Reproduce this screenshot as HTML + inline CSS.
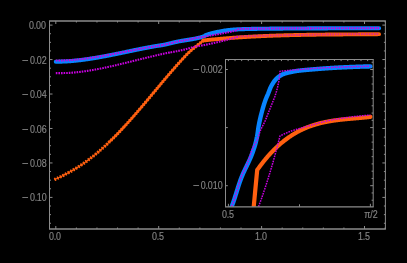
<!DOCTYPE html>
<html><head><meta charset="utf-8"><style>
html,body{margin:0;padding:0;background:#000;width:407px;height:263px;overflow:hidden}
#w{position:relative;width:407px;height:263px}
.l{position:absolute;font-family:"Liberation Sans",sans-serif;font-size:10.5px;line-height:12px;color:#848484;white-space:nowrap;z-index:2;-webkit-font-smoothing:antialiased;-webkit-text-stroke:0.15px #848484}
#lb{position:absolute;left:0;top:0;width:407px;height:263px;will-change:transform}
.c{width:40px;text-align:center}
.p{margin:0 -0.3px}
.r{transform:scaleX(0.85);transform-origin:100% 50%}
.c{transform:scaleX(0.85);transform-origin:50% 50%}
.mi{display:inline-block;transform:scaleX(1.25);transform-origin:100% 50%;margin-right:1.8px}
</style></head><body><div id="w">
<svg width="407" height="263" viewBox="0 0 407 263" style="position:absolute;left:0;top:0">
<defs>
<clipPath id="cm"><rect x="49.5" y="21.0" width="335.9" height="208.0"/></clipPath>
<clipPath id="ci"><rect x="225.5" y="59.5" width="147.7" height="147.3"/></clipPath>
</defs>
<g clip-path="url(#cm)" fill="none" stroke-linejoin="round">
<path d="M55.80,61.72 L56.32,61.72 L56.83,61.71 L57.35,61.71 L57.86,61.70 L58.38,61.69 L58.89,61.68 L59.41,61.66 L59.92,61.65 L60.44,61.63 L60.96,61.62 L61.47,61.60 L61.99,61.58 L62.50,61.56 L63.02,61.54 L63.53,61.52 L64.05,61.50 L64.57,61.48 L65.08,61.45 L65.60,61.43 L66.11,61.41 L66.63,61.38 L67.14,61.35 L67.66,61.32 L68.17,61.29 L68.69,61.25 L69.21,61.21 L69.72,61.17 L70.24,61.13 L70.75,61.09 L71.27,61.05 L71.78,61.00 L72.30,60.95 L72.82,60.91 L73.33,60.86 L73.85,60.81 L74.36,60.76 L74.88,60.71 L75.39,60.66 L75.91,60.61 L76.42,60.56 L76.94,60.51 L77.46,60.45 L77.97,60.39 L78.49,60.33 L79.00,60.28 L79.52,60.21 L80.03,60.15 L80.55,60.09 L81.07,60.02 L81.58,59.96 L82.10,59.89 L82.61,59.83 L83.13,59.76 L83.64,59.69 L84.16,59.62 L84.67,59.55 L85.19,59.48 L85.71,59.41 L86.22,59.34 L86.74,59.27 L87.25,59.19 L87.77,59.12 L88.28,59.04 L88.80,58.96 L89.31,58.89 L89.83,58.81 L90.35,58.73 L90.86,58.65 L91.38,58.56 L91.89,58.48 L92.41,58.40 L92.92,58.31 L93.44,58.23 L93.96,58.15 L94.47,58.06 L94.99,57.98 L95.50,57.89 L96.02,57.80 L96.53,57.72 L97.05,57.63 L97.56,57.54 L98.08,57.45 L98.60,57.36 L99.11,57.26 L99.63,57.17 L100.14,57.08 L100.66,56.98 L101.17,56.89 L101.69,56.80 L102.21,56.70 L102.72,56.60 L103.24,56.51 L103.75,56.41 L104.27,56.32 L104.78,56.22 L105.30,56.12 L105.81,56.02 L106.33,55.93 L106.85,55.83 L107.36,55.73 L107.88,55.63 L108.39,55.53 L108.91,55.43 L109.42,55.32 L109.94,55.22 L110.45,55.12 L110.97,55.02 L111.49,54.91 L112.00,54.81 L112.52,54.71 L113.03,54.60 L113.55,54.50 L114.06,54.40 L114.58,54.29 L115.10,54.19 L115.61,54.08 L116.13,53.98 L116.64,53.87 L117.16,53.77 L117.67,53.66 L118.19,53.56 L118.70,53.45 L119.22,53.34 L119.74,53.24 L120.25,53.13 L120.77,53.02 L121.28,52.91 L121.80,52.81 L122.31,52.70 L122.83,52.59 L123.35,52.49 L123.86,52.38 L124.38,52.27 L124.89,52.16 L125.41,52.06 L125.92,51.95 L126.44,51.84 L126.95,51.74 L127.47,51.63 L127.99,51.52 L128.50,51.41 L129.02,51.31 L129.53,51.20 L130.05,51.09 L130.56,50.98 L131.08,50.88 L131.60,50.77 L132.11,50.66 L132.63,50.55 L133.14,50.45 L133.66,50.34 L134.17,50.24 L134.69,50.13 L135.20,50.03 L135.72,49.92 L136.24,49.81 L136.75,49.71 L137.27,49.60 L137.78,49.50 L138.30,49.39 L138.81,49.29 L139.33,49.19 L139.84,49.08 L140.36,48.98 L140.88,48.87 L141.39,48.77 L141.91,48.67 L142.42,48.57 L142.94,48.47 L143.45,48.36 L143.97,48.26 L144.49,48.16 L145.00,48.06 L145.52,47.97 L146.03,47.87 L146.55,47.77 L147.06,47.67 L147.58,47.57 L148.09,47.47 L148.61,47.38 L149.13,47.28 L149.64,47.18 L150.16,47.09 L150.67,46.99 L151.19,46.90 L151.70,46.80 L152.22,46.71 L152.74,46.62 L153.25,46.52 L153.77,46.43 L154.28,46.34 L154.80,46.26 L155.31,46.17 L155.83,46.09 L156.34,46.00 L156.86,45.92 L157.38,45.84 L157.89,45.76 L158.41,45.68 L158.92,45.60 L159.44,45.52 L159.95,45.44 L160.47,45.36 L160.98,45.28 L161.50,45.20 L162.02,45.11 L162.53,45.02 L163.05,44.93 L163.56,44.84 L164.08,44.74 L164.59,44.64 L165.11,44.54 L165.63,44.43 L166.14,44.32 L166.66,44.21 L167.17,44.09 L167.69,43.98 L168.20,43.86 L168.72,43.73 L169.23,43.61 L169.75,43.49 L170.27,43.36 L170.78,43.23 L171.30,43.11 L171.81,42.98 L172.33,42.85 L172.84,42.73 L173.36,42.60 L173.88,42.48 L174.39,42.35 L174.91,42.23 L175.42,42.11 L175.94,42.00 L176.45,41.88 L176.97,41.77 L177.48,41.66 L178.00,41.55 L178.52,41.45 L179.03,41.35 L179.55,41.25 L180.06,41.15 L180.58,41.06 L181.09,40.97 L181.61,40.88 L182.13,40.79 L182.64,40.70 L183.16,40.62 L183.67,40.53 L184.19,40.45 L184.70,40.37 L185.22,40.29 L185.73,40.21 L186.25,40.13 L186.77,40.04 L187.28,39.96 L187.80,39.88 L188.31,39.80 L188.83,39.72 L189.34,39.64 L189.86,39.56 L190.37,39.47 L190.89,39.39 L191.41,39.30 L191.92,39.21 L192.44,39.12 L192.95,39.03 L193.47,38.94 L193.98,38.85 L194.50,38.75 L195.02,38.65 L195.53,38.55 L196.05,38.44 L196.56,38.33 L197.08,38.22 L197.59,38.11 L198.11,37.99 L198.62,37.87 L199.14,37.75 L199.66,37.62 L200.17,37.48 L200.69,37.34 L201.20,37.19 L201.72,37.03 L202.23,36.86 L202.75,36.68 L203.27,36.47 L203.78,36.23 L204.30,35.96 L204.81,35.68 L205.33,35.41 L205.84,35.17 L206.36,34.97 L206.87,34.78 L207.39,34.59 L207.91,34.41 L208.42,34.24 L208.94,34.08 L209.45,33.92 L209.97,33.76 L210.48,33.61 L211.00,33.46 L211.52,33.32 L212.03,33.18 L212.55,33.04 L213.06,32.91 L213.58,32.78 L214.09,32.65 L214.61,32.53 L215.12,32.41 L215.64,32.30 L216.16,32.19 L216.67,32.08 L217.19,31.98 L217.70,31.89 L218.22,31.80 L218.73,31.71 L219.25,31.62 L219.76,31.52 L220.28,31.43 L220.80,31.33 L221.31,31.23 L221.83,31.13 L222.34,31.02 L222.86,30.92 L223.37,30.82 L223.89,30.73 L224.41,30.64 L224.92,30.56 L225.44,30.48 L225.95,30.41 L226.47,30.35 L226.98,30.28 L227.50,30.22 L228.01,30.15 L228.53,30.09 L229.05,30.04 L229.56,29.98 L230.08,29.93 L230.59,29.87 L231.11,29.82 L231.62,29.78 L232.14,29.73 L232.66,29.69 L233.17,29.65 L233.69,29.61 L234.20,29.57 L234.72,29.54 L235.23,29.50 L235.75,29.47 L236.26,29.44 L236.78,29.41 L237.30,29.38 L237.81,29.35 L238.33,29.32 L238.84,29.30 L239.36,29.27 L239.87,29.25 L240.39,29.22 L240.90,29.20 L241.42,29.18 L241.94,29.16 L242.45,29.14 L242.97,29.12 L243.48,29.11 L244.00,29.09 L244.51,29.08 L245.03,29.06 L245.55,29.05 L246.06,29.03 L246.58,29.02 L247.09,29.01 L247.61,29.00 L248.12,28.99 L248.64,28.98 L249.15,28.96 L249.67,28.95 L250.19,28.94 L250.70,28.93 L251.22,28.92 L251.73,28.91 L252.25,28.91 L252.76,28.90 L253.28,28.89 L253.80,28.88 L254.31,28.87 L254.83,28.86 L255.34,28.85 L255.86,28.85 L256.37,28.84 L256.89,28.83 L257.40,28.82 L257.92,28.82 L258.44,28.81 L258.95,28.80 L259.47,28.79 L259.98,28.78 L260.50,28.78 L261.01,28.77 L261.53,28.76 L262.05,28.76 L262.56,28.75 L263.08,28.74 L263.59,28.74 L264.11,28.73 L264.62,28.72 L265.14,28.72 L265.65,28.71 L266.17,28.71 L266.69,28.70 L267.20,28.70 L267.72,28.69 L268.23,28.69 L268.75,28.68 L269.26,28.68 L269.78,28.67 L270.29,28.67 L270.81,28.66 L271.33,28.66 L271.84,28.65 L272.36,28.65 L272.87,28.65 L273.39,28.64 L273.90,28.64 L274.42,28.63 L274.94,28.63 L275.45,28.63 L275.97,28.62 L276.48,28.62 L277.00,28.61 L277.51,28.61 L278.03,28.61 L278.54,28.60 L279.06,28.60 L279.58,28.60 L280.09,28.59 L280.61,28.59 L281.12,28.59 L281.64,28.58 L282.15,28.58 L282.67,28.58 L283.19,28.57 L283.70,28.57 L284.22,28.57 L284.73,28.56 L285.25,28.56 L285.76,28.56 L286.28,28.55 L286.79,28.55 L287.31,28.55 L287.83,28.54 L288.34,28.54 L288.86,28.54 L289.37,28.53 L289.89,28.53 L290.40,28.53 L290.92,28.52 L291.43,28.52 L291.95,28.52 L292.47,28.51 L292.98,28.51 L293.50,28.51 L294.01,28.50 L294.53,28.50 L295.04,28.50 L295.56,28.49 L296.08,28.49 L296.59,28.49 L297.11,28.48 L297.62,28.48 L298.14,28.48 L298.65,28.47 L299.17,28.47 L299.68,28.47 L300.20,28.47 L300.72,28.46 L301.23,28.46 L301.75,28.46 L302.26,28.45 L302.78,28.45 L303.29,28.45 L303.81,28.44 L304.33,28.44 L304.84,28.44 L305.36,28.44 L305.87,28.43 L306.39,28.43 L306.90,28.43 L307.42,28.42 L307.93,28.42 L308.45,28.42 L308.97,28.42 L309.48,28.41 L310.00,28.41 L310.51,28.41 L311.03,28.40 L311.54,28.40 L312.06,28.40 L312.58,28.40 L313.09,28.39 L313.61,28.39 L314.12,28.39 L314.64,28.39 L315.15,28.38 L315.67,28.38 L316.18,28.38 L316.70,28.37 L317.22,28.37 L317.73,28.37 L318.25,28.37 L318.76,28.36 L319.28,28.36 L319.79,28.36 L320.31,28.36 L320.82,28.35 L321.34,28.35 L321.86,28.35 L322.37,28.35 L322.89,28.35 L323.40,28.34 L323.92,28.34 L324.43,28.34 L324.95,28.34 L325.47,28.33 L325.98,28.33 L326.50,28.33 L327.01,28.33 L327.53,28.33 L328.04,28.32 L328.56,28.32 L329.07,28.32 L329.59,28.32 L330.11,28.32 L330.62,28.31 L331.14,28.31 L331.65,28.31 L332.17,28.31 L332.68,28.31 L333.20,28.30 L333.72,28.30 L334.23,28.30 L334.75,28.30 L335.26,28.30 L335.78,28.29 L336.29,28.29 L336.81,28.29 L337.32,28.29 L337.84,28.29 L338.36,28.29 L338.87,28.28 L339.39,28.28 L339.90,28.28 L340.42,28.28 L340.93,28.28 L341.45,28.27 L341.97,28.27 L342.48,28.27 L343.00,28.27 L343.51,28.27 L344.03,28.27 L344.54,28.26 L345.06,28.26 L345.57,28.26 L346.09,28.26 L346.61,28.26 L347.12,28.26 L347.64,28.25 L348.15,28.25 L348.67,28.25 L349.18,28.25 L349.70,28.25 L350.21,28.25 L350.73,28.24 L351.25,28.24 L351.76,28.24 L352.28,28.24 L352.79,28.24 L353.31,28.24 L353.82,28.24 L354.34,28.23 L354.86,28.23 L355.37,28.23 L355.89,28.23 L356.40,28.23 L356.92,28.23 L357.43,28.23 L357.95,28.22 L358.46,28.22 L358.98,28.22 L359.50,28.22 L360.01,28.22 L360.53,28.22 L361.04,28.22 L361.56,28.21 L362.07,28.21 L362.59,28.21 L363.11,28.21 L363.62,28.21 L364.14,28.21 L364.65,28.21 L365.17,28.21 L365.68,28.20 L366.20,28.20 L366.71,28.20 L367.23,28.20 L367.75,28.20 L368.26,28.20 L368.78,28.20 L369.29,28.20 L369.81,28.19 L370.32,28.19 L370.84,28.19 L371.35,28.19 L371.87,28.19 L372.39,28.19 L372.90,28.19 L373.42,28.19 L373.93,28.19 L374.45,28.19 L374.96,28.18 L375.48,28.18 L376.00,28.18 L376.51,28.18 L377.03,28.18 L377.54,28.18 L378.06,28.18 L378.57,28.18 L379.09,28.18" stroke="#0884ff" stroke-width="4.1" stroke-linecap="round"/>
<path d="M109.76,141.55 L110.27,141.05 L110.79,140.54 L111.31,140.04 L111.83,139.53 L112.34,139.02 L112.86,138.50 L113.38,137.99 L113.90,137.47 L114.41,136.95 L114.93,136.43 L115.45,135.91 L115.97,135.38 L116.48,134.85 L117.00,134.33 L117.52,133.80 L118.03,133.26 L118.55,132.73 L119.07,132.19 L119.59,131.65 L120.10,131.10 L120.62,130.56 L121.14,130.01 L121.66,129.46 L122.17,128.90 L122.69,128.35 L123.21,127.79 L123.73,127.23 L124.24,126.67 L124.76,126.11 L125.28,125.54 L125.80,124.98 L126.31,124.41 L126.83,123.84 L127.35,123.27 L127.86,122.70 L128.38,122.13 L128.90,121.55 L129.42,120.98 L129.93,120.40 L130.45,119.82 L130.97,119.24 L131.49,118.66 L132.00,118.07 L132.52,117.48 L133.04,116.90 L133.56,116.30 L134.07,115.71 L134.59,115.12 L135.11,114.52 L135.62,113.92 L136.14,113.33 L136.66,112.73 L137.18,112.13 L137.69,111.53 L138.21,110.92 L138.73,110.32 L139.25,109.72 L139.76,109.11 L140.28,108.51 L140.80,107.90 L141.32,107.30 L141.83,106.69 L142.35,106.09 L142.87,105.48 L143.39,104.86 L143.90,104.25 L144.42,103.64 L144.94,103.02 L145.45,102.41 L145.97,101.79 L146.49,101.17 L147.01,100.56 L147.52,99.94 L148.04,99.32 L148.56,98.70 L149.08,98.08 L149.59,97.46 L150.11,96.84 L150.63,96.22 L151.15,95.60 L151.66,94.98 L152.18,94.36 L152.70,93.74 L153.22,93.12 L153.73,92.51 L154.25,91.89 L154.77,91.27 L155.28,90.65 L155.80,90.03 L156.32,89.41 L156.84,88.78 L157.35,88.16 L157.87,87.54 L158.39,86.92 L158.91,86.30 L159.42,85.67 L159.94,85.05 L160.46,84.43 L160.98,83.81 L161.49,83.19 L162.01,82.58 L162.53,81.96 L163.04,81.34 L163.56,80.73 L164.08,80.12 L164.60,79.50 L165.11,78.89 L165.63,78.29 L166.15,77.68 L166.67,77.07 L167.18,76.46 L167.70,75.86 L168.22,75.25 L168.74,74.64 L169.25,74.04 L169.77,73.43 L170.29,72.83 L170.81,72.23 L171.32,71.62 L171.84,71.02 L172.36,70.43 L172.87,69.83 L173.39,69.23 L173.91,68.64 L174.43,68.05 L174.94,67.46 L175.46,66.88 L175.98,66.30 L176.50,65.72 L177.01,65.14 L177.53,64.57 L178.05,64.00 L178.57,63.42 L179.08,62.85 L179.60,62.27 L180.12,61.70 L180.63,61.13 L181.15,60.55 L181.67,59.98 L182.19,59.41 L182.70,58.84 L183.22,58.28 L183.74,57.72 L184.26,57.16 L184.77,56.61 L185.29,56.06 L185.81,55.52 L186.33,54.98 L186.84,54.45 L187.36,53.93 L187.88,53.42 L188.40,52.91 L188.91,52.41 L189.43,51.93 L189.95,51.45 L190.46,50.98 L190.98,50.52 L191.50,50.08 L192.02,49.64 L192.53,49.21 L193.05,48.78 L193.57,48.36 L194.09,47.95 L194.60,47.53 L195.12,47.12 L195.64,46.71 L196.16,46.30 L196.67,45.89 L197.19,45.48 L197.71,45.06 L198.23,44.64 L198.74,44.22 L199.26,43.80 L199.78,43.38 L200.29,42.96 L200.81,42.54 L201.33,42.13 L201.85,41.71 L202.36,41.30 L202.88,40.88 L203.40,40.47" stroke="#ff6010" stroke-width="2.3"/>
<path d="M54.40,179.60 L54.92,179.37 L55.43,179.14 L55.95,178.91 L56.47,178.67 L56.99,178.43 L57.50,178.19 L58.02,177.95 L58.54,177.71 L59.06,177.46 L59.57,177.21 L60.09,176.96 L60.61,176.71 L61.13,176.46 L61.64,176.20 L62.16,175.94 L62.68,175.68 L63.20,175.42 L63.71,175.16 L64.23,174.89 L64.75,174.62 L65.26,174.35 L65.78,174.08 L66.30,173.81 L66.82,173.54 L67.33,173.26 L67.85,172.98 L68.37,172.70 L68.89,172.42 L69.40,172.14 L69.92,171.85 L70.44,171.56 L70.96,171.27 L71.47,170.98 L71.99,170.69 L72.51,170.39 L73.02,170.09 L73.54,169.79 L74.06,169.48 L74.58,169.17 L75.09,168.87 L75.61,168.55 L76.13,168.24 L76.65,167.92 L77.16,167.60 L77.68,167.28 L78.20,166.95 L78.72,166.62 L79.23,166.29 L79.75,165.96 L80.27,165.62 L80.79,165.28 L81.30,164.94 L81.82,164.59 L82.34,164.24 L82.85,163.89 L83.37,163.53 L83.89,163.17 L84.41,162.80 L84.92,162.44 L85.44,162.07 L85.96,161.69 L86.48,161.32 L86.99,160.94 L87.51,160.55 L88.03,160.17 L88.55,159.78 L89.06,159.39 L89.58,159.00 L90.10,158.60 L90.61,158.21 L91.13,157.81 L91.65,157.40 L92.17,157.00 L92.68,156.59 L93.20,156.18 L93.72,155.77 L94.24,155.35 L94.75,154.93 L95.27,154.51 L95.79,154.08 L96.31,153.65 L96.82,153.22 L97.34,152.78 L97.86,152.35 L98.38,151.90 L98.89,151.46 L99.41,151.01 L99.93,150.56 L100.44,150.11 L100.96,149.66 L101.48,149.20 L102.00,148.74 L102.51,148.28 L103.03,147.81 L103.55,147.35 L104.07,146.88 L104.58,146.41 L105.10,145.94 L105.62,145.46 L106.14,144.98 L106.65,144.50 L107.17,144.02 L107.69,143.53 L108.21,143.04 L108.72,142.54 L109.24,142.05 L109.76,141.55 L110.27,141.05 L110.79,140.54 L111.31,140.04" stroke="#ff6010" stroke-width="1.2"/>
<path d="M54.40,179.60 L54.92,179.37 L55.43,179.14 L55.95,178.91 L56.47,178.67 L56.99,178.43 L57.50,178.19 L58.02,177.95 L58.54,177.71 L59.06,177.46 L59.57,177.21 L60.09,176.96 L60.61,176.71 L61.13,176.46 L61.64,176.20 L62.16,175.94 L62.68,175.68 L63.20,175.42 L63.71,175.16 L64.23,174.89 L64.75,174.62 L65.26,174.35 L65.78,174.08 L66.30,173.81 L66.82,173.54 L67.33,173.26 L67.85,172.98 L68.37,172.70 L68.89,172.42 L69.40,172.14 L69.92,171.85 L70.44,171.56 L70.96,171.27 L71.47,170.98 L71.99,170.69 L72.51,170.39 L73.02,170.09 L73.54,169.79 L74.06,169.48 L74.58,169.17 L75.09,168.87 L75.61,168.55 L76.13,168.24 L76.65,167.92 L77.16,167.60 L77.68,167.28 L78.20,166.95 L78.72,166.62 L79.23,166.29 L79.75,165.96 L80.27,165.62 L80.79,165.28 L81.30,164.94 L81.82,164.59 L82.34,164.24 L82.85,163.89 L83.37,163.53 L83.89,163.17 L84.41,162.80 L84.92,162.44 L85.44,162.07 L85.96,161.69 L86.48,161.32 L86.99,160.94 L87.51,160.55 L88.03,160.17 L88.55,159.78 L89.06,159.39 L89.58,159.00 L90.10,158.60 L90.61,158.21 L91.13,157.81 L91.65,157.40 L92.17,157.00 L92.68,156.59 L93.20,156.18 L93.72,155.77 L94.24,155.35 L94.75,154.93 L95.27,154.51 L95.79,154.08 L96.31,153.65 L96.82,153.22 L97.34,152.78 L97.86,152.35 L98.38,151.90 L98.89,151.46 L99.41,151.01 L99.93,150.56 L100.44,150.11 L100.96,149.66 L101.48,149.20 L102.00,148.74 L102.51,148.28 L103.03,147.81 L103.55,147.35 L104.07,146.88 L104.58,146.41 L105.10,145.94 L105.62,145.46 L106.14,144.98 L106.65,144.50 L107.17,144.02 L107.69,143.53 L108.21,143.04 L108.72,142.54 L109.24,142.05 L109.76,141.55 L110.27,141.05 L110.79,140.54 L111.31,140.04 L111.83,139.53 L112.34,139.02 L112.86,138.50 L113.38,137.99 L113.90,137.47 L114.41,136.95 L114.93,136.43 L115.45,135.91 L115.97,135.38 L116.48,134.85 L117.00,134.33 L117.52,133.80 L118.03,133.26 L118.55,132.73 L119.07,132.19 L119.59,131.65 L120.10,131.10 L120.62,130.56 L121.14,130.01 L121.66,129.46 L122.17,128.90 L122.69,128.35 L123.21,127.79 L123.73,127.23 L124.24,126.67 L124.76,126.11 L125.28,125.54 L125.80,124.98 L126.31,124.41 L126.83,123.84 L127.35,123.27 L127.86,122.70 L128.38,122.13 L128.90,121.55 L129.42,120.98 L129.93,120.40 L130.45,119.82 L130.97,119.24 L131.49,118.66 L132.00,118.07 L132.52,117.48 L133.04,116.90 L133.56,116.30 L134.07,115.71 L134.59,115.12 L135.11,114.52 L135.62,113.92 L136.14,113.33 L136.66,112.73 L137.18,112.13 L137.69,111.53 L138.21,110.92 L138.73,110.32 L139.25,109.72 L139.76,109.11 L140.28,108.51 L140.80,107.90 L141.32,107.30 L141.83,106.69 L142.35,106.09 L142.87,105.48 L143.39,104.86 L143.90,104.25 L144.42,103.64 L144.94,103.02 L145.45,102.41 L145.97,101.79 L146.49,101.17 L147.01,100.56 L147.52,99.94 L148.04,99.32 L148.56,98.70 L149.08,98.08 L149.59,97.46 L150.11,96.84 L150.63,96.22 L151.15,95.60 L151.66,94.98 L152.18,94.36 L152.70,93.74 L153.22,93.12 L153.73,92.51 L154.25,91.89 L154.77,91.27 L155.28,90.65 L155.80,90.03 L156.32,89.41 L156.84,88.78 L157.35,88.16 L157.87,87.54 L158.39,86.92 L158.91,86.30 L159.42,85.67 L159.94,85.05 L160.46,84.43 L160.98,83.81 L161.49,83.19 L162.01,82.58 L162.53,81.96 L163.04,81.34 L163.56,80.73 L164.08,80.12 L164.60,79.50 L165.11,78.89 L165.63,78.29 L166.15,77.68 L166.67,77.07 L167.18,76.46 L167.70,75.86 L168.22,75.25 L168.74,74.64 L169.25,74.04 L169.77,73.43 L170.29,72.83 L170.81,72.23 L171.32,71.62 L171.84,71.02 L172.36,70.43 L172.87,69.83 L173.39,69.23 L173.91,68.64 L174.43,68.05 L174.94,67.46 L175.46,66.88 L175.98,66.30 L176.50,65.72 L177.01,65.14 L177.53,64.57 L178.05,64.00 L178.57,63.42 L179.08,62.85 L179.60,62.27 L180.12,61.70 L180.63,61.13 L181.15,60.55 L181.67,59.98 L182.19,59.41 L182.70,58.84 L183.22,58.28 L183.74,57.72 L184.26,57.16 L184.77,56.61 L185.29,56.06 L185.81,55.52 L186.33,54.98 L186.84,54.45 L187.36,53.93 L187.88,53.42 L188.40,52.91 L188.91,52.41 L189.43,51.93 L189.95,51.45 L190.46,50.98 L190.98,50.52 L191.50,50.08 L192.02,49.64 L192.53,49.21 L193.05,48.78 L193.57,48.36 L194.09,47.95 L194.60,47.53 L195.12,47.12 L195.64,46.71 L196.16,46.30 L196.67,45.89 L197.19,45.48 L197.71,45.06 L198.23,44.64 L198.74,44.22 L199.26,43.80 L199.78,43.38 L200.29,42.96 L200.81,42.54 L201.33,42.13 L201.85,41.71 L202.36,41.30 L202.88,40.88 L203.40,40.47" stroke="#ff6010" stroke-width="3.3" stroke-dasharray="1.6 1.4"/>
<path d="M203.40,40.47 L203.92,40.41 L204.43,40.36 L204.95,40.30 L205.47,40.25 L205.98,40.19 L206.50,40.14 L207.02,40.08 L207.53,40.03 L208.05,39.98 L208.57,39.92 L209.08,39.87 L209.60,39.82 L210.12,39.77 L210.63,39.72 L211.15,39.67 L211.67,39.61 L212.18,39.56 L212.70,39.51 L213.22,39.46 L213.73,39.42 L214.25,39.37 L214.77,39.32 L215.28,39.27 L215.80,39.22 L216.32,39.17 L216.83,39.13 L217.35,39.08 L217.87,39.03 L218.38,38.99 L218.90,38.94 L219.42,38.89 L219.93,38.85 L220.45,38.80 L220.97,38.76 L221.48,38.71 L222.00,38.67 L222.52,38.63 L223.03,38.58 L223.55,38.54 L224.07,38.50 L224.58,38.45 L225.10,38.41 L225.62,38.37 L226.14,38.33 L226.65,38.29 L227.17,38.25 L227.69,38.21 L228.20,38.17 L228.72,38.13 L229.24,38.09 L229.75,38.05 L230.27,38.01 L230.79,37.97 L231.30,37.93 L231.82,37.89 L232.34,37.85 L232.85,37.82 L233.37,37.78 L233.89,37.74 L234.40,37.70 L234.92,37.67 L235.44,37.63 L235.95,37.60 L236.47,37.56 L236.99,37.52 L237.50,37.49 L238.02,37.45 L238.54,37.42 L239.05,37.39 L239.57,37.35 L240.09,37.32 L240.60,37.28 L241.12,37.25 L241.64,37.22 L242.15,37.19 L242.67,37.15 L243.19,37.12 L243.70,37.09 L244.22,37.06 L244.74,37.03 L245.25,37.00 L245.77,36.96 L246.29,36.93 L246.80,36.90 L247.32,36.87 L247.84,36.84 L248.35,36.81 L248.87,36.79 L249.39,36.76 L249.90,36.73 L250.42,36.70 L250.94,36.67 L251.46,36.64 L251.97,36.62 L252.49,36.59 L253.01,36.56 L253.52,36.53 L254.04,36.51 L254.56,36.48 L255.07,36.45 L255.59,36.43 L256.11,36.40 L256.62,36.38 L257.14,36.35 L257.66,36.33 L258.17,36.30 L258.69,36.28 L259.21,36.25 L259.72,36.23 L260.24,36.20 L260.76,36.18 L261.27,36.16 L261.79,36.13 L262.31,36.11 L262.82,36.09 L263.34,36.06 L263.86,36.04 L264.37,36.02 L264.89,36.00 L265.41,35.98 L265.92,35.95 L266.44,35.93 L266.96,35.91 L267.47,35.89 L267.99,35.87 L268.51,35.85 L269.02,35.83 L269.54,35.81 L270.06,35.79 L270.57,35.77 L271.09,35.75 L271.61,35.73 L272.12,35.71 L272.64,35.69 L273.16,35.67 L273.67,35.66 L274.19,35.64 L274.71,35.62 L275.23,35.60 L275.74,35.58 L276.26,35.57 L276.78,35.55 L277.29,35.53 L277.81,35.51 L278.33,35.50 L278.84,35.48 L279.36,35.46 L279.88,35.45 L280.39,35.43 L280.91,35.42 L281.43,35.40 L281.94,35.38 L282.46,35.37 L282.98,35.35 L283.49,35.34 L284.01,35.32 L284.53,35.31 L285.04,35.30 L285.56,35.28 L286.08,35.27 L286.59,35.25 L287.11,35.24 L287.63,35.22 L288.14,35.21 L288.66,35.20 L289.18,35.18 L289.69,35.17 L290.21,35.16 L290.73,35.15 L291.24,35.13 L291.76,35.12 L292.28,35.11 L292.79,35.10 L293.31,35.08 L293.83,35.07 L294.34,35.06 L294.86,35.05 L295.38,35.04 L295.89,35.03 L296.41,35.01 L296.93,35.00 L297.44,34.99 L297.96,34.98 L298.48,34.97 L298.99,34.96 L299.51,34.95 L300.03,34.94 L300.55,34.93 L301.06,34.92 L301.58,34.91 L302.10,34.90 L302.61,34.89 L303.13,34.88 L303.65,34.87 L304.16,34.86 L304.68,34.85 L305.20,34.84 L305.71,34.84 L306.23,34.83 L306.75,34.82 L307.26,34.81 L307.78,34.80 L308.30,34.79 L308.81,34.78 L309.33,34.78 L309.85,34.77 L310.36,34.76 L310.88,34.75 L311.40,34.75 L311.91,34.74 L312.43,34.73 L312.95,34.72 L313.46,34.72 L313.98,34.71 L314.50,34.70 L315.01,34.69 L315.53,34.69 L316.05,34.68 L316.56,34.67 L317.08,34.67 L317.60,34.66 L318.11,34.65 L318.63,34.65 L319.15,34.64 L319.66,34.64 L320.18,34.63 L320.70,34.62 L321.21,34.62 L321.73,34.61 L322.25,34.61 L322.76,34.60 L323.28,34.59 L323.80,34.59 L324.32,34.58 L324.83,34.58 L325.35,34.57 L325.87,34.57 L326.38,34.56 L326.90,34.56 L327.42,34.55 L327.93,34.55 L328.45,34.54 L328.97,34.54 L329.48,34.53 L330.00,34.53 L330.52,34.52 L331.03,34.52 L331.55,34.51 L332.07,34.51 L332.58,34.51 L333.10,34.50 L333.62,34.50 L334.13,34.49 L334.65,34.49 L335.17,34.48 L335.68,34.48 L336.20,34.48 L336.72,34.47 L337.23,34.47 L337.75,34.46 L338.27,34.46 L338.78,34.46 L339.30,34.45 L339.82,34.45 L340.33,34.44 L340.85,34.44 L341.37,34.44 L341.88,34.43 L342.40,34.43 L342.92,34.43 L343.43,34.42 L343.95,34.42 L344.47,34.41 L344.98,34.41 L345.50,34.41 L346.02,34.40 L346.53,34.40 L347.05,34.40 L347.57,34.39 L348.08,34.39 L348.60,34.39 L349.12,34.38 L349.64,34.38 L350.15,34.38 L350.67,34.37 L351.19,34.37 L351.70,34.37 L352.22,34.36 L352.74,34.36 L353.25,34.36 L353.77,34.35 L354.29,34.35 L354.80,34.35 L355.32,34.34 L355.84,34.34 L356.35,34.34 L356.87,34.33 L357.39,34.33 L357.90,34.33 L358.42,34.32 L358.94,34.32 L359.45,34.32 L359.97,34.31 L360.49,34.31 L361.00,34.31 L361.52,34.30 L362.04,34.30 L362.55,34.29 L363.07,34.29 L363.59,34.29 L364.10,34.28 L364.62,34.28 L365.14,34.28 L365.65,34.27 L366.17,34.27 L366.69,34.27 L367.20,34.26 L367.72,34.26 L368.24,34.25 L368.75,34.25 L369.27,34.25 L369.79,34.24 L370.30,34.24 L370.82,34.24 L371.34,34.23 L371.85,34.23 L372.37,34.22 L372.89,34.22 L373.41,34.21 L373.92,34.21 L374.44,34.21 L374.96,34.20 L375.47,34.20 L375.99,34.19 L376.51,34.19 L377.02,34.18 L377.54,34.18 L378.06,34.17 L378.57,34.17 L379.09,34.17" stroke="#ff6010" stroke-width="3.9" stroke-linecap="round"/>
<path d="M55.80,60.52 L56.32,60.51 L56.83,60.51 L57.35,60.51 L57.87,60.51 L58.39,60.50 L58.90,60.49 L59.42,60.49 L59.94,60.48 L60.46,60.47 L60.97,60.46 L61.49,60.45 L62.01,60.43 L62.53,60.42 L63.04,60.41 L63.56,60.40 L64.08,60.38 L64.59,60.37 L65.11,60.36 L65.63,60.34 L66.15,60.32 L66.66,60.30 L67.18,60.28 L67.70,60.26 L68.22,60.23 L68.73,60.20 L69.25,60.17 L69.77,60.13 L70.29,60.10 L70.80,60.06 L71.32,60.02 L71.84,59.98 L72.36,59.94 L72.87,59.89 L73.39,59.85 L73.91,59.81 L74.42,59.77 L74.94,59.72 L75.46,59.68 L75.98,59.63 L76.49,59.59 L77.01,59.54 L77.53,59.49 L78.05,59.44 L78.56,59.39 L79.08,59.33 L79.60,59.28 L80.12,59.22 L80.63,59.16 L81.15,59.10 L81.67,59.05 L82.18,58.98 L82.70,58.92 L83.22,58.86 L83.74,58.80 L84.25,58.74 L84.77,58.67 L85.29,58.61 L85.81,58.54 L86.32,58.48 L86.84,58.41 L87.36,58.34 L87.88,58.27 L88.39,58.20 L88.91,58.13 L89.43,58.06 L89.94,57.98 L90.46,57.91 L90.98,57.83 L91.50,57.76 L92.01,57.68 L92.53,57.60 L93.05,57.52 L93.57,57.45 L94.08,57.37 L94.60,57.29 L95.12,57.21 L95.64,57.13 L96.15,57.05 L96.67,56.96 L97.19,56.88 L97.70,56.80 L98.22,56.71 L98.74,56.63 L99.26,56.54 L99.77,56.45 L100.29,56.37 L100.81,56.28 L101.33,56.19 L101.84,56.10 L102.36,56.01 L102.88,55.92 L103.40,55.83 L103.91,55.74 L104.43,55.65 L104.95,55.56 L105.47,55.47 L105.98,55.37 L106.50,55.28 L107.02,55.19 L107.53,55.09 L108.05,55.00 L108.57,54.90 L109.09,54.81 L109.60,54.71 L110.12,54.62 L110.64,54.52 L111.16,54.42 L111.67,54.33 L112.19,54.23 L112.71,54.13 L113.23,54.03 L113.74,53.93 L114.26,53.84 L114.78,53.74 L115.29,53.64 L115.81,53.54 L116.33,53.44 L116.85,53.34 L117.36,53.24 L117.88,53.14 L118.40,53.04 L118.92,52.94 L119.43,52.84 L119.95,52.74 L120.47,52.64 L120.99,52.53 L121.50,52.43 L122.02,52.33 L122.54,52.23 L123.05,52.13 L123.57,52.03 L124.09,51.93 L124.61,51.82 L125.12,51.72 L125.64,51.62 L126.16,51.52 L126.68,51.42 L127.19,51.32 L127.71,51.21 L128.23,51.11 L128.75,51.01 L129.26,50.91 L129.78,50.81 L130.30,50.70 L130.82,50.60 L131.33,50.50 L131.85,50.40 L132.37,50.30 L132.88,50.20 L133.40,50.10 L133.92,50.00 L134.44,49.90 L134.95,49.80 L135.47,49.70 L135.99,49.60 L136.51,49.50 L137.02,49.40 L137.54,49.30 L138.06,49.20 L138.58,49.10 L139.09,49.00 L139.61,48.90 L140.13,48.80 L140.64,48.71 L141.16,48.61 L141.68,48.51 L142.20,48.41 L142.71,48.32 L143.23,48.22 L143.75,48.13 L144.27,48.04 L144.78,47.95 L145.30,47.85 L145.82,47.77 L146.34,47.68 L146.85,47.59 L147.37,47.50 L147.89,47.42 L148.40,47.33 L148.92,47.25 L149.44,47.17 L149.96,47.08 L150.47,47.00 L150.99,46.92 L151.51,46.84 L152.03,46.76 L152.54,46.68 L153.06,46.60 L153.58,46.52 L154.10,46.43 L154.61,46.35 L155.13,46.27 L155.65,46.19 L156.17,46.11 L156.68,46.02 L157.20,45.94 L157.72,45.85 L158.23,45.77 L158.75,45.68 L159.27,45.60 L159.79,45.51 L160.30,45.42 L160.82,45.33 L161.34,45.23 L161.86,45.14 L162.37,45.04 L162.89,44.95 L163.41,44.85 L163.93,44.75 L164.44,44.65 L164.96,44.54 L165.48,44.43 L165.99,44.32 L166.51,44.21 L167.03,44.09 L167.55,43.98 L168.06,43.86 L168.58,43.74 L169.10,43.62 L169.62,43.50 L170.13,43.37 L170.65,43.25 L171.17,43.13 L171.69,43.00 L172.20,42.87 L172.72,42.74 L173.24,42.61 L173.75,42.47 L174.27,42.33 L174.79,42.19 L175.31,42.06 L175.82,41.93 L176.34,41.80 L176.86,41.68 L177.38,41.55 L177.89,41.43 L178.41,41.31 L178.93,41.19 L179.45,41.09 L179.96,40.99 L180.48,40.90 L181.00,40.82 L181.51,40.74 L182.03,40.67 L182.55,40.60 L183.07,40.53 L183.58,40.46 L184.10,40.38 L184.62,40.30 L185.14,40.22 L185.65,40.13 L186.17,40.04 L186.69,39.94 L187.21,39.85 L187.72,39.75 L188.24,39.65 L188.76,39.54 L189.28,39.44 L189.79,39.33 L190.31,39.23 L190.83,39.11 L191.34,38.99 L191.86,38.87 L192.38,38.74 L192.90,38.62 L193.41,38.49 L193.93,38.37 L194.45,38.25 L194.97,38.14 L195.48,38.03 L196.00,37.94 L196.52,37.85 L197.04,37.77 L197.55,37.69 L198.07,37.62 L198.59,37.54 L199.10,37.47 L199.62,37.41 L200.14,37.34 L200.66,37.27 L201.17,37.20 L201.69,37.12 L202.21,37.05 L202.73,36.96 L203.24,36.88 L203.76,36.78 L204.28,36.68 L204.80,36.57 L205.31,36.45 L205.83,36.34 L206.35,36.22 L206.86,36.10 L207.38,35.99 L207.90,35.88 L208.42,35.78 L208.93,35.69 L209.45,35.60 L209.97,35.51 L210.49,35.43 L211.00,35.36 L211.52,35.28 L212.04,35.21 L212.56,35.13 L213.07,35.06 L213.59,34.98 L214.11,34.90 L214.63,34.82 L215.14,34.74 L215.66,34.65 L216.18,34.56 L216.69,34.47 L217.21,34.37 L217.73,34.27 L218.25,34.17 L218.76,34.07 L219.28,33.97 L219.80,33.87 L220.32,33.77 L220.83,33.67 L221.35,33.57 L221.87,33.47 L222.39,33.37 L222.90,33.27 L223.42,33.18 L223.94,33.08 L224.45,32.98 L224.97,32.88 L225.49,32.78 L226.01,32.68 L226.52,32.58 L227.04,32.48 L227.56,32.38 L228.08,32.28 L228.59,32.18 L229.11,32.09 L229.63,31.99 L230.15,31.89 L230.66,31.78 L231.18,31.67 L231.70,31.56 L232.21,31.43 L232.73,31.30 L233.25,31.17 L233.77,31.03 L234.28,30.88 L234.80,30.72 L235.32,30.55 L235.84,30.36 L236.35,30.17 L236.87,29.96 L237.39,29.71 L237.91,29.42 L238.42,29.10 L238.94,28.76 L238.94,28.76 L239.46,28.76 L239.97,28.75 L240.49,28.75 L241.01,28.74 L241.53,28.74 L242.04,28.74 L242.56,28.73 L243.08,28.73 L243.59,28.72 L244.11,28.72 L244.63,28.72 L245.15,28.71 L245.66,28.71 L246.18,28.71 L246.70,28.70 L247.21,28.70 L247.73,28.69 L248.25,28.69 L248.77,28.69 L249.28,28.68 L249.80,28.68 L250.32,28.67 L250.83,28.67 L251.35,28.67 L251.87,28.66 L252.39,28.66 L252.90,28.66 L253.42,28.65 L253.94,28.65 L254.45,28.65 L254.97,28.64 L255.49,28.64 L256.01,28.63 L256.52,28.63 L257.04,28.63 L257.56,28.62 L258.07,28.62 L258.59,28.62 L259.11,28.61 L259.63,28.61 L260.14,28.61 L260.66,28.60 L261.18,28.60 L261.70,28.60 L262.21,28.59 L262.73,28.59 L263.25,28.59 L263.76,28.58 L264.28,28.58 L264.80,28.58 L265.32,28.57 L265.83,28.57 L266.35,28.57 L266.87,28.56 L267.38,28.56 L267.90,28.56 L268.42,28.55 L268.94,28.55 L269.45,28.55 L269.97,28.55 L270.49,28.54 L271.00,28.54 L271.52,28.54 L272.04,28.53 L272.56,28.53 L273.07,28.53 L273.59,28.52 L274.11,28.52 L274.62,28.52 L275.14,28.51 L275.66,28.51 L276.18,28.51 L276.69,28.51 L277.21,28.50 L277.73,28.50 L278.24,28.50 L278.76,28.49 L279.28,28.49 L279.80,28.49 L280.31,28.48 L280.83,28.48 L281.35,28.48 L281.86,28.47 L282.38,28.47 L282.90,28.47 L283.42,28.47 L283.93,28.46 L284.45,28.46 L284.97,28.46 L285.48,28.45 L286.00,28.45 L286.52,28.45 L287.04,28.45 L287.55,28.44 L288.07,28.44 L288.59,28.44 L289.10,28.43 L289.62,28.43 L290.14,28.43 L290.66,28.42 L291.17,28.42 L291.69,28.42 L292.21,28.42 L292.72,28.41 L293.24,28.41 L293.76,28.41 L294.28,28.41 L294.79,28.40 L295.31,28.40 L295.83,28.40 L296.34,28.39 L296.86,28.39 L297.38,28.39 L297.90,28.39 L298.41,28.38 L298.93,28.38 L299.45,28.38 L299.96,28.38 L300.48,28.37 L301.00,28.37 L301.52,28.37 L302.03,28.37 L302.55,28.36 L303.07,28.36 L303.58,28.36 L304.10,28.36 L304.62,28.35 L305.14,28.35 L305.65,28.35 L306.17,28.35 L306.69,28.35 L307.20,28.34 L307.72,28.34 L308.24,28.34 L308.76,28.34 L309.27,28.33 L309.79,28.33 L310.31,28.33 L310.82,28.33 L311.34,28.33 L311.86,28.32 L312.38,28.32 L312.89,28.32 L313.41,28.32 L313.93,28.32 L314.44,28.32 L314.96,28.31 L315.48,28.31 L316.00,28.31 L316.51,28.31 L317.03,28.31 L317.55,28.31 L318.06,28.30 L318.58,28.30 L319.10,28.30 L319.62,28.30 L320.13,28.30 L320.65,28.30 L321.17,28.29 L321.68,28.29 L322.20,28.29 L322.72,28.29 L323.24,28.29 L323.75,28.29 L324.27,28.28 L324.79,28.28 L325.31,28.28 L325.82,28.28 L326.34,28.28 L326.86,28.28 L327.37,28.27 L327.89,28.27 L328.41,28.27 L328.93,28.27 L329.44,28.27 L329.96,28.27 L330.48,28.26 L330.99,28.26 L331.51,28.26 L332.03,28.26 L332.55,28.26 L333.06,28.26 L333.58,28.26 L334.10,28.25 L334.61,28.25 L335.13,28.25 L335.65,28.25 L336.17,28.25 L336.68,28.25 L337.20,28.25 L337.72,28.24 L338.23,28.24 L338.75,28.24 L339.27,28.24 L339.79,28.24 L340.30,28.24 L340.82,28.24 L341.34,28.23 L341.85,28.23 L342.37,28.23 L342.89,28.23 L343.41,28.23 L343.92,28.23 L344.44,28.23 L344.96,28.22 L345.47,28.22 L345.99,28.22 L346.51,28.22 L347.03,28.22 L347.54,28.22 L348.06,28.22 L348.58,28.22 L349.09,28.21 L349.61,28.21 L350.13,28.21 L350.65,28.21 L351.16,28.21 L351.68,28.21 L352.20,28.21 L352.71,28.21 L353.23,28.20 L353.75,28.20 L354.27,28.20 L354.78,28.20 L355.30,28.20 L355.82,28.20 L356.33,28.20 L356.85,28.20 L357.37,28.20 L357.89,28.20 L358.40,28.19 L358.92,28.19 L359.44,28.19 L359.95,28.19 L360.47,28.19 L360.99,28.19 L361.51,28.19 L362.02,28.19 L362.54,28.19 L363.06,28.19 L363.57,28.18 L364.09,28.18 L364.61,28.18 L365.13,28.18 L365.64,28.18 L366.16,28.18 L366.68,28.18 L367.19,28.18 L367.71,28.18 L368.23,28.18 L368.75,28.18 L369.26,28.18 L369.78,28.18 L370.30,28.17 L370.81,28.17 L371.33,28.17 L371.85,28.17 L372.37,28.17 L372.88,28.17 L373.40,28.17 L373.92,28.17 L374.43,28.17 L374.95,28.17 L375.47,28.17 L375.99,28.17 L376.50,28.17 L377.02,28.17 L377.54,28.17 L378.05,28.17 L378.57,28.17 L379.09,28.17" stroke="#c800e0" stroke-width="2.1" stroke-dasharray="1.6 1"/>
<path d="M55.80,73.16 L56.32,73.16 L56.84,73.16 L57.36,73.16 L57.88,73.16 L58.40,73.15 L58.92,73.15 L59.43,73.14 L59.95,73.14 L60.47,73.13 L60.99,73.12 L61.51,73.12 L62.03,73.11 L62.55,73.10 L63.07,73.09 L63.59,73.08 L64.11,73.07 L64.63,73.06 L65.15,73.05 L65.66,73.04 L66.18,73.03 L66.70,73.02 L67.22,73.00 L67.74,72.98 L68.26,72.95 L68.78,72.92 L69.30,72.89 L69.82,72.86 L70.34,72.82 L70.86,72.78 L71.38,72.74 L71.89,72.69 L72.41,72.65 L72.93,72.60 L73.45,72.55 L73.97,72.50 L74.49,72.46 L75.01,72.41 L75.53,72.36 L76.05,72.31 L76.57,72.26 L77.09,72.21 L77.61,72.16 L78.12,72.10 L78.64,72.05 L79.16,71.99 L79.68,71.93 L80.20,71.86 L80.72,71.80 L81.24,71.73 L81.76,71.67 L82.28,71.60 L82.80,71.53 L83.32,71.46 L83.84,71.39 L84.35,71.31 L84.87,71.24 L85.39,71.17 L85.91,71.09 L86.43,71.02 L86.95,70.94 L87.47,70.87 L87.99,70.79 L88.51,70.71 L89.03,70.63 L89.55,70.55 L90.07,70.46 L90.58,70.38 L91.10,70.29 L91.62,70.20 L92.14,70.11 L92.66,70.02 L93.18,69.93 L93.70,69.84 L94.22,69.75 L94.74,69.66 L95.26,69.56 L95.78,69.47 L96.30,69.37 L96.82,69.28 L97.33,69.18 L97.85,69.08 L98.37,68.99 L98.89,68.89 L99.41,68.79 L99.93,68.69 L100.45,68.58 L100.97,68.48 L101.49,68.37 L102.01,68.27 L102.53,68.16 L103.05,68.06 L103.56,67.95 L104.08,67.84 L104.60,67.73 L105.12,67.62 L105.64,67.51 L106.16,67.40 L106.68,67.29 L107.20,67.18 L107.72,67.07 L108.24,66.96 L108.76,66.84 L109.28,66.73 L109.79,66.61 L110.31,66.50 L110.83,66.38 L111.35,66.26 L111.87,66.15 L112.39,66.03 L112.91,65.91 L113.43,65.79 L113.95,65.67 L114.47,65.55 L114.99,65.43 L115.51,65.31 L116.02,65.19 L116.54,65.07 L117.06,64.94 L117.58,64.82 L118.10,64.70 L118.62,64.58 L119.14,64.45 L119.66,64.33 L120.18,64.21 L120.70,64.08 L121.22,63.96 L121.74,63.83 L122.25,63.70 L122.77,63.58 L123.29,63.45 L123.81,63.32 L124.33,63.20 L124.85,63.07 L125.37,62.94 L125.89,62.81 L126.41,62.68 L126.93,62.56 L127.45,62.43 L127.97,62.30 L128.48,62.17 L129.00,62.04 L129.52,61.92 L130.04,61.79 L130.56,61.66 L131.08,61.53 L131.60,61.40 L132.12,61.27 L132.64,61.14 L133.16,61.01 L133.68,60.88 L134.20,60.75 L134.72,60.62 L135.23,60.49 L135.75,60.36 L136.27,60.23 L136.79,60.10 L137.31,59.97 L137.83,59.84 L138.35,59.71 L138.87,59.58 L139.39,59.46 L139.91,59.33 L140.43,59.20 L140.95,59.07 L141.46,58.94 L141.98,58.81 L142.50,58.68 L143.02,58.55 L143.54,58.42 L144.06,58.30 L144.58,58.17 L145.10,58.04 L145.62,57.91 L146.14,57.78 L146.66,57.66 L147.18,57.53 L147.69,57.40 L148.21,57.28 L148.73,57.15 L149.25,57.03 L149.77,56.90 L150.29,56.78 L150.81,56.66 L151.33,56.53 L151.85,56.41 L152.37,56.28 L152.89,56.16 L153.41,56.04 L153.92,55.91 L154.44,55.79 L154.96,55.67 L155.48,55.55 L156.00,55.43 L156.52,55.31 L157.04,55.19 L157.56,55.07 L158.08,54.95 L158.60,54.84 L159.12,54.72 L159.64,54.60 L160.15,54.49 L160.67,54.37 L161.19,54.26 L161.71,54.15 L162.23,54.03 L162.75,53.92 L163.27,53.81 L163.79,53.70 L164.31,53.59 L164.83,53.48 L165.35,53.37 L165.87,53.26 L166.38,53.15 L166.90,53.04 L167.42,52.93 L167.94,52.83 L168.46,52.72 L168.98,52.61 L169.50,52.51 L169.50,52.50 L170.02,52.42 L170.54,52.34 L171.06,52.25 L171.58,52.16 L172.10,52.08 L172.63,51.99 L173.15,51.89 L173.67,51.80 L174.19,51.70 L174.71,51.61 L175.23,51.51 L175.75,51.41 L176.27,51.31 L176.79,51.20 L177.31,51.10 L177.84,50.99 L178.36,50.89 L178.88,50.78 L179.40,50.67 L179.92,50.56 L180.44,50.44 L180.96,50.33 L181.48,50.21 L182.00,50.10 L182.52,49.98 L183.04,49.86 L183.57,49.75 L184.09,49.63 L184.61,49.50 L185.13,49.38 L185.65,49.24 L186.17,49.10 L186.69,48.96 L187.21,48.81 L187.73,48.66 L188.25,48.51 L188.77,48.35 L189.30,48.20 L189.82,48.05 L190.34,47.89 L190.86,47.74 L191.38,47.59 L191.90,47.45 L192.42,47.31 L192.94,47.17 L193.46,47.04 L193.98,46.92 L194.51,46.80 L195.03,46.69 L195.55,46.58 L196.07,46.48 L196.59,46.38 L197.11,46.28 L197.63,46.18 L198.15,46.09 L198.67,46.00 L199.19,45.91 L199.71,45.83 L200.24,45.74 L200.76,45.65 L201.28,45.57 L201.80,45.48 L202.32,45.39 L202.84,45.30 L203.36,45.21 L203.88,45.12 L204.40,45.02 L204.92,44.92 L205.44,44.82 L205.97,44.72 L206.49,44.61 L207.01,44.50 L207.53,44.39 L208.05,44.28 L208.57,44.17 L209.09,44.06 L209.61,43.95 L210.13,43.84 L210.65,43.72 L211.18,43.61 L211.70,43.50 L212.22,43.38 L212.74,43.26 L213.26,43.15 L213.78,43.03 L214.30,42.91 L214.82,42.79 L215.34,42.67 L215.86,42.55 L216.38,42.43 L216.91,42.31 L217.43,42.19 L217.95,42.06 L218.47,41.94 L218.99,41.81 L219.51,41.69 L220.03,41.56 L220.55,41.43 L221.07,41.31 L221.59,41.18 L222.11,41.05 L222.64,40.92 L223.16,40.78 L223.68,40.65 L224.20,40.52 L224.72,40.38 L225.24,40.25 L225.76,40.11 L226.28,39.98 L226.80,39.84 L227.32,39.70 L227.85,39.56 L228.37,39.42 L228.89,39.28 L229.41,39.14 L229.93,39.00 L230.45,38.85 L230.97,38.71 L231.49,38.56 L232.01,38.42 L232.53,38.27 L233.05,38.12 L233.58,37.97 L234.10,37.82 L234.62,37.67 L235.14,37.52 L235.66,37.37 L236.18,37.22 L236.70,37.06 L237.22,36.91 L237.74,36.75 L238.26,36.59 L238.79,36.43" stroke="#c800e0" stroke-width="2.1" stroke-dasharray="1.6 1"/>
<path d="M238.79,36.43 L239.30,36.41 L239.82,36.39 L240.34,36.37 L240.86,36.35 L241.37,36.34 L241.89,36.32 L242.41,36.30 L242.93,36.28 L243.44,36.26 L243.96,36.24 L244.48,36.22 L245.00,36.20 L245.52,36.18 L246.03,36.16 L246.55,36.15 L247.07,36.13 L247.59,36.11 L248.10,36.09 L248.62,36.08 L249.14,36.06 L249.66,36.04 L250.18,36.03 L250.69,36.01 L251.21,35.99 L251.73,35.98 L252.25,35.96 L252.76,35.95 L253.28,35.93 L253.80,35.91 L254.32,35.90 L254.83,35.89 L255.35,35.87 L255.87,35.86 L256.39,35.84 L256.91,35.83 L257.42,35.82 L257.94,35.80 L258.46,35.79 L258.98,35.78 L259.49,35.76 L260.01,35.75 L260.53,35.74 L261.05,35.72 L261.57,35.71 L262.08,35.70 L262.60,35.69 L263.12,35.68 L263.64,35.66 L264.15,35.65 L264.67,35.64 L265.19,35.63 L265.71,35.62 L266.22,35.60 L266.74,35.59 L267.26,35.58 L267.78,35.57 L268.30,35.56 L268.81,35.55 L269.33,35.54 L269.85,35.52 L270.37,35.51 L270.88,35.50 L271.40,35.49 L271.92,35.48 L272.44,35.47 L272.96,35.46 L273.47,35.45 L273.99,35.44 L274.51,35.43 L275.03,35.41 L275.54,35.40 L276.06,35.39 L276.58,35.38 L277.10,35.37 L277.61,35.36 L278.13,35.35 L278.65,35.34 L279.17,35.33 L279.69,35.32 L280.20,35.30 L280.72,35.29 L281.24,35.28 L281.76,35.27 L282.27,35.26 L282.79,35.25 L283.31,35.24 L283.83,35.23 L284.35,35.21 L284.86,35.20 L285.38,35.19 L285.90,35.18 L286.42,35.17 L286.93,35.16 L287.45,35.15 L287.97,35.13 L288.49,35.12 L289.00,35.11 L289.52,35.10 L290.04,35.09 L290.56,35.08 L291.08,35.07 L291.59,35.06 L292.11,35.04 L292.63,35.03 L293.15,35.02 L293.66,35.01 L294.18,35.00 L294.70,34.99 L295.22,34.98 L295.74,34.97 L296.25,34.96 L296.77,34.94 L297.29,34.93 L297.81,34.92 L298.32,34.91 L298.84,34.90 L299.36,34.89 L299.88,34.88 L300.39,34.87 L300.91,34.86 L301.43,34.85 L301.95,34.84 L302.47,34.83 L302.98,34.82 L303.50,34.81 L304.02,34.79 L304.54,34.78 L305.05,34.77 L305.57,34.76 L306.09,34.75 L306.61,34.74 L307.13,34.73 L307.64,34.72 L308.16,34.71 L308.68,34.70 L309.20,34.70 L309.71,34.69 L310.23,34.68 L310.75,34.67 L311.27,34.66 L311.78,34.65 L312.30,34.64 L312.82,34.63 L313.34,34.62 L313.86,34.61 L314.37,34.60 L314.89,34.59 L315.41,34.59 L315.93,34.58 L316.44,34.57 L316.96,34.56 L317.48,34.55 L318.00,34.55 L318.52,34.54 L319.03,34.53 L319.55,34.52 L320.07,34.51 L320.59,34.51 L321.10,34.50 L321.62,34.49 L322.14,34.49 L322.66,34.48 L323.17,34.47 L323.69,34.46 L324.21,34.46 L324.73,34.45 L325.25,34.45 L325.76,34.44 L326.28,34.43 L326.80,34.43 L327.32,34.42 L327.83,34.41 L328.35,34.41 L328.87,34.40 L329.39,34.40 L329.91,34.39 L330.42,34.38 L330.94,34.38 L331.46,34.37 L331.98,34.36 L332.49,34.36 L333.01,34.35 L333.53,34.35 L334.05,34.34 L334.56,34.33 L335.08,34.33 L335.60,34.32 L336.12,34.32 L336.64,34.31 L337.15,34.30 L337.67,34.30 L338.19,34.29 L338.71,34.29 L339.22,34.28 L339.74,34.27 L340.26,34.27 L340.78,34.26 L341.30,34.26 L341.81,34.25 L342.33,34.25 L342.85,34.24 L343.37,34.24 L343.88,34.23 L344.40,34.22 L344.92,34.22 L345.44,34.21 L345.95,34.21 L346.47,34.20 L346.99,34.20 L347.51,34.19 L348.03,34.19 L348.54,34.18 L349.06,34.18 L349.58,34.17 L350.10,34.17 L350.61,34.16 L351.13,34.16 L351.65,34.15 L352.17,34.15 L352.69,34.14 L353.20,34.14 L353.72,34.13 L354.24,34.13 L354.76,34.12 L355.27,34.12 L355.79,34.11 L356.31,34.11 L356.83,34.10 L357.34,34.10 L357.86,34.10 L358.38,34.09 L358.90,34.09 L359.42,34.08 L359.93,34.08 L360.45,34.07 L360.97,34.07 L361.49,34.07 L362.00,34.06 L362.52,34.06 L363.04,34.05 L363.56,34.05 L364.08,34.05 L364.59,34.04 L365.11,34.04 L365.63,34.04 L366.15,34.03 L366.66,34.03 L367.18,34.03 L367.70,34.02 L368.22,34.02 L368.73,34.02 L369.25,34.01 L369.77,34.01 L370.29,34.01 L370.81,34.00 L371.32,34.00 L371.84,34.00 L372.36,34.00 L372.88,33.99 L373.39,33.99 L373.91,33.99 L374.43,33.99 L374.95,33.98 L375.47,33.98 L375.98,33.98 L376.50,33.98 L377.02,33.97 L377.54,33.97 L378.05,33.97 L378.57,33.97 L379.09,33.97" stroke="#c800e0" stroke-opacity="0.55" stroke-width="2.1" stroke-dasharray="1.6 1"/>
</g>
<path d="M49.0,21.0H385.9M49.0,229.0H385.9" stroke="#8c8c8c" stroke-width="1.5" fill="none"/>
<path d="M49.5,21.0V229.0M385.4,21.0V229.0" stroke="#8c8c8c" stroke-width="1.0" fill="none"/>
<path d="M55.80,229.0v-3.0M55.80,21.0v3.0M158.70,229.0v-3.0M158.70,21.0v3.0M261.60,229.0v-3.0M261.60,21.0v3.0M364.50,229.0v-3.0M364.50,21.0v3.0M76.38,229.0v-1.5M76.38,21.0v1.5M96.96,229.0v-1.5M96.96,21.0v1.5M117.54,229.0v-1.5M117.54,21.0v1.5M138.12,229.0v-1.5M138.12,21.0v1.5M179.28,229.0v-1.5M179.28,21.0v1.5M199.86,229.0v-1.5M199.86,21.0v1.5M220.44,229.0v-1.5M220.44,21.0v1.5M241.02,229.0v-1.5M241.02,21.0v1.5M282.18,229.0v-1.5M282.18,21.0v1.5M302.76,229.0v-1.5M302.76,21.0v1.5M323.34,229.0v-1.5M323.34,21.0v1.5M343.92,229.0v-1.5M343.92,21.0v1.5M385.08,229.0v-1.5M385.08,21.0v1.5M49.5,25.10h3.0M385.4,25.10h-3.0M49.5,59.56h3.0M385.4,59.56h-3.0M49.5,94.02h3.0M385.4,94.02h-3.0M49.5,128.48h3.0M385.4,128.48h-3.0M49.5,162.94h3.0M385.4,162.94h-3.0M49.5,197.40h3.0M385.4,197.40h-3.0M49.5,33.72h1.5M385.4,33.72h-1.5M49.5,42.33h1.5M385.4,42.33h-1.5M49.5,50.95h1.5M385.4,50.95h-1.5M49.5,68.18h1.5M385.4,68.18h-1.5M49.5,76.79h1.5M385.4,76.79h-1.5M49.5,85.41h1.5M385.4,85.41h-1.5M49.5,102.63h1.5M385.4,102.63h-1.5M49.5,111.25h1.5M385.4,111.25h-1.5M49.5,119.87h1.5M385.4,119.87h-1.5M49.5,137.09h1.5M385.4,137.09h-1.5M49.5,145.71h1.5M385.4,145.71h-1.5M49.5,154.32h1.5M385.4,154.32h-1.5M49.5,171.56h1.5M385.4,171.56h-1.5M49.5,180.17h1.5M385.4,180.17h-1.5M49.5,188.78h1.5M385.4,188.78h-1.5M49.5,206.01h1.5M385.4,206.01h-1.5M49.5,214.63h1.5M385.4,214.63h-1.5M49.5,223.25h1.5M385.4,223.25h-1.5" stroke="#8c8c8c" stroke-width="1" fill="none"/>
<rect x="225.5" y="59.5" width="147.70" height="147.30" fill="#000"/>
<g clip-path="url(#ci)" fill="none" stroke-linejoin="round">
<path d="M162.10,349.17 L162.43,349.14 L162.76,349.10 L163.10,349.04 L163.43,348.97 L163.76,348.88 L164.09,348.78 L164.43,348.67 L164.76,348.55 L165.09,348.42 L165.42,348.28 L165.75,348.13 L166.09,347.97 L166.42,347.81 L166.75,347.64 L167.08,347.47 L167.42,347.29 L167.75,347.11 L168.08,346.92 L168.41,346.74 L168.74,346.54 L169.08,346.32 L169.41,346.07 L169.74,345.81 L170.07,345.52 L170.41,345.22 L170.74,344.90 L171.07,344.56 L171.40,344.21 L171.73,343.85 L172.07,343.47 L172.40,343.09 L172.73,342.69 L173.06,342.29 L173.40,341.88 L173.73,341.47 L174.06,341.06 L174.39,340.64 L174.72,340.23 L175.06,339.80 L175.39,339.37 L175.72,338.92 L176.05,338.45 L176.39,337.97 L176.72,337.48 L177.05,336.98 L177.38,336.46 L177.71,335.94 L178.05,335.41 L178.38,334.86 L178.71,334.31 L179.04,333.75 L179.38,333.19 L179.71,332.62 L180.04,332.04 L180.37,331.46 L180.70,330.88 L181.04,330.29 L181.37,329.70 L181.70,329.10 L182.03,328.48 L182.37,327.86 L182.70,327.22 L183.03,326.58 L183.36,325.93 L183.69,325.27 L184.03,324.60 L184.36,323.92 L184.69,323.24 L185.02,322.55 L185.36,321.86 L185.69,321.15 L186.02,320.45 L186.35,319.74 L186.68,319.03 L187.02,318.31 L187.35,317.59 L187.68,316.87 L188.01,316.14 L188.35,315.40 L188.68,314.65 L189.01,313.90 L189.34,313.13 L189.67,312.37 L190.01,311.59 L190.34,310.81 L190.67,310.03 L191.00,309.24 L191.34,308.44 L191.67,307.65 L192.00,306.84 L192.33,306.04 L192.66,305.23 L193.00,304.42 L193.33,303.60 L193.66,302.79 L193.99,301.97 L194.33,301.15 L194.66,300.32 L194.99,299.48 L195.32,298.64 L195.65,297.80 L195.99,296.95 L196.32,296.10 L196.65,295.24 L196.98,294.38 L197.31,293.52 L197.65,292.65 L197.98,291.78 L198.31,290.91 L198.64,290.04 L198.98,289.17 L199.31,288.29 L199.64,287.42 L199.97,286.54 L200.30,285.66 L200.64,284.78 L200.97,283.90 L201.30,283.01 L201.63,282.12 L201.97,281.23 L202.30,280.33 L202.63,279.44 L202.96,278.54 L203.29,277.63 L203.63,276.73 L203.96,275.83 L204.29,274.93 L204.62,274.02 L204.96,273.12 L205.29,272.21 L205.62,271.31 L205.95,270.41 L206.28,269.51 L206.62,268.61 L206.95,267.70 L207.28,266.80 L207.61,265.90 L207.95,264.99 L208.28,264.08 L208.61,263.18 L208.94,262.27 L209.27,261.36 L209.61,260.45 L209.94,259.55 L210.27,258.64 L210.60,257.74 L210.94,256.83 L211.27,255.93 L211.60,255.03 L211.93,254.13 L212.26,253.24 L212.60,252.35 L212.93,251.46 L213.26,250.57 L213.59,249.68 L213.93,248.80 L214.26,247.91 L214.59,247.02 L214.92,246.14 L215.25,245.25 L215.59,244.37 L215.92,243.49 L216.25,242.62 L216.58,241.74 L216.92,240.87 L217.25,240.00 L217.58,239.14 L217.91,238.28 L218.24,237.42 L218.58,236.57 L218.91,235.72 L219.24,234.88 L219.57,234.04 L219.91,233.21 L220.24,232.37 L220.57,231.54 L220.90,230.71 L221.23,229.88 L221.57,229.05 L221.90,228.23 L222.23,227.41 L222.56,226.60 L222.90,225.79 L223.23,224.99 L223.56,224.19 L223.89,223.40 L224.22,222.61 L224.56,221.83 L224.89,221.06 L225.22,220.29 L225.55,219.54 L225.89,218.79 L226.22,218.07 L226.55,217.36 L226.88,216.67 L227.21,215.98 L227.55,215.31 L227.88,214.64 L228.21,213.97 L228.54,213.30 L228.88,212.63 L229.21,211.95 L229.54,211.27 L229.87,210.57 L230.20,209.87 L230.54,209.14 L230.87,208.40 L231.20,207.64 L231.53,206.86 L231.87,206.05 L232.20,205.21 L232.53,204.33 L232.86,203.43 L233.19,202.50 L233.53,201.55 L233.86,200.57 L234.19,199.58 L234.52,198.57 L234.86,197.54 L235.19,196.50 L235.52,195.45 L235.85,194.39 L236.18,193.32 L236.52,192.26 L236.85,191.19 L237.18,190.12 L237.51,189.06 L237.85,188.00 L238.18,186.95 L238.51,185.91 L238.84,184.88 L239.17,183.87 L239.51,182.88 L239.84,181.91 L240.17,180.96 L240.50,180.03 L240.84,179.13 L241.17,178.26 L241.50,177.42 L241.83,176.59 L242.16,175.78 L242.50,175.00 L242.83,174.22 L243.16,173.47 L243.49,172.72 L243.83,171.99 L244.16,171.27 L244.49,170.56 L244.82,169.86 L245.15,169.17 L245.49,168.48 L245.82,167.79 L246.15,167.11 L246.48,166.43 L246.82,165.75 L247.15,165.07 L247.48,164.39 L247.81,163.70 L248.14,163.01 L248.48,162.31 L248.81,161.61 L249.14,160.89 L249.47,160.16 L249.81,159.43 L250.14,158.67 L250.47,157.91 L250.80,157.12 L251.13,156.32 L251.47,155.50 L251.80,154.67 L252.13,153.80 L252.46,152.92 L252.80,152.01 L253.13,151.08 L253.46,150.12 L253.79,149.13 L254.12,148.12 L254.46,147.07 L254.79,145.98 L255.12,144.83 L255.45,143.63 L255.79,142.36 L256.12,141.02 L256.45,139.60 L256.78,138.09 L257.11,136.33 L257.45,134.25 L257.78,131.97 L258.11,129.64 L258.44,127.39 L258.78,125.37 L259.11,123.65 L259.44,122.01 L259.77,120.45 L260.10,118.95 L260.44,117.51 L260.77,116.12 L261.10,114.77 L261.43,113.47 L261.77,112.20 L262.10,110.97 L262.43,109.75 L262.76,108.57 L263.09,107.41 L263.43,106.29 L263.76,105.19 L264.09,104.13 L264.42,103.10 L264.76,102.11 L265.09,101.15 L265.42,100.22 L265.75,99.33 L266.08,98.49 L266.42,97.69 L266.75,96.91 L267.08,96.14 L267.41,95.38 L267.74,94.61 L268.08,93.81 L268.41,92.98 L268.74,92.13 L269.07,91.25 L269.41,90.38 L269.74,89.51 L270.07,88.68 L270.40,87.87 L270.73,87.12 L271.07,86.44 L271.40,85.82 L271.73,85.24 L272.06,84.67 L272.40,84.12 L272.73,83.58 L273.06,83.06 L273.39,82.55 L273.72,82.06 L274.06,81.58 L274.39,81.13 L274.72,80.69 L275.05,80.27 L275.39,79.86 L275.72,79.48 L276.05,79.11 L276.38,78.77 L276.71,78.44 L277.05,78.13 L277.38,77.85 L277.71,77.57 L278.04,77.30 L278.38,77.04 L278.71,76.78 L279.04,76.53 L279.37,76.29 L279.70,76.06 L280.04,75.84 L280.37,75.63 L280.70,75.42 L281.03,75.22 L281.37,75.03 L281.70,74.85 L282.03,74.68 L282.36,74.52 L282.69,74.37 L283.03,74.22 L283.36,74.09 L283.69,73.97 L284.02,73.85 L284.36,73.73 L284.69,73.62 L285.02,73.51 L285.35,73.41 L285.68,73.31 L286.02,73.21 L286.35,73.12 L286.68,73.03 L287.01,72.94 L287.35,72.85 L287.68,72.77 L288.01,72.69 L288.34,72.61 L288.67,72.53 L289.01,72.45 L289.34,72.38 L289.67,72.31 L290.00,72.24 L290.34,72.17 L290.67,72.10 L291.00,72.03 L291.33,71.97 L291.66,71.90 L292.00,71.84 L292.33,71.77 L292.66,71.71 L292.99,71.64 L293.33,71.58 L293.66,71.51 L293.99,71.45 L294.32,71.39 L294.65,71.33 L294.99,71.27 L295.32,71.21 L295.65,71.15 L295.98,71.10 L296.32,71.04 L296.65,70.99 L296.98,70.94 L297.31,70.89 L297.64,70.85 L297.98,70.80 L298.31,70.76 L298.64,70.72 L298.97,70.68 L299.31,70.64 L299.64,70.60 L299.97,70.56 L300.30,70.52 L300.63,70.48 L300.97,70.44 L301.30,70.41 L301.63,70.37 L301.96,70.34 L302.30,70.30 L302.63,70.27 L302.96,70.23 L303.29,70.20 L303.62,70.17 L303.96,70.14 L304.29,70.10 L304.62,70.07 L304.95,70.04 L305.29,70.01 L305.62,69.98 L305.95,69.95 L306.28,69.92 L306.61,69.89 L306.95,69.86 L307.28,69.83 L307.61,69.80 L307.94,69.78 L308.28,69.75 L308.61,69.72 L308.94,69.69 L309.27,69.66 L309.60,69.63 L309.94,69.61 L310.27,69.58 L310.60,69.55 L310.93,69.52 L311.27,69.49 L311.60,69.47 L311.93,69.44 L312.26,69.41 L312.59,69.38 L312.93,69.35 L313.26,69.33 L313.59,69.30 L313.92,69.27 L314.26,69.25 L314.59,69.22 L314.92,69.19 L315.25,69.16 L315.58,69.14 L315.92,69.11 L316.25,69.08 L316.58,69.06 L316.91,69.03 L317.25,69.00 L317.58,68.98 L317.91,68.95 L318.24,68.92 L318.57,68.90 L318.91,68.87 L319.24,68.85 L319.57,68.82 L319.90,68.79 L320.24,68.77 L320.57,68.74 L320.90,68.72 L321.23,68.69 L321.56,68.67 L321.90,68.64 L322.23,68.62 L322.56,68.59 L322.89,68.57 L323.23,68.54 L323.56,68.52 L323.89,68.49 L324.22,68.47 L324.55,68.44 L324.89,68.42 L325.22,68.40 L325.55,68.37 L325.88,68.35 L326.22,68.33 L326.55,68.30 L326.88,68.28 L327.21,68.26 L327.54,68.23 L327.88,68.21 L328.21,68.19 L328.54,68.17 L328.87,68.14 L329.21,68.12 L329.54,68.10 L329.87,68.08 L330.20,68.06 L330.53,68.03 L330.87,68.01 L331.20,67.99 L331.53,67.97 L331.86,67.95 L332.20,67.93 L332.53,67.91 L332.86,67.89 L333.19,67.87 L333.52,67.85 L333.86,67.83 L334.19,67.81 L334.52,67.79 L334.85,67.77 L335.19,67.75 L335.52,67.73 L335.85,67.71 L336.18,67.70 L336.51,67.68 L336.85,67.66 L337.18,67.64 L337.51,67.62 L337.84,67.61 L338.17,67.59 L338.51,67.57 L338.84,67.56 L339.17,67.54 L339.50,67.52 L339.84,67.51 L340.17,67.49 L340.50,67.48 L340.83,67.46 L341.16,67.44 L341.50,67.43 L341.83,67.41 L342.16,67.40 L342.49,67.38 L342.83,67.37 L343.16,67.35 L343.49,67.34 L343.82,67.32 L344.15,67.31 L344.49,67.29 L344.82,67.28 L345.15,67.26 L345.48,67.25 L345.82,67.23 L346.15,67.22 L346.48,67.20 L346.81,67.19 L347.14,67.17 L347.48,67.16 L347.81,67.14 L348.14,67.13 L348.47,67.11 L348.81,67.10 L349.14,67.08 L349.47,67.07 L349.80,67.06 L350.13,67.04 L350.47,67.03 L350.80,67.02 L351.13,67.00 L351.46,66.99 L351.80,66.97 L352.13,66.96 L352.46,66.95 L352.79,66.93 L353.12,66.92 L353.46,66.91 L353.79,66.90 L354.12,66.88 L354.45,66.87 L354.79,66.86 L355.12,66.84 L355.45,66.83 L355.78,66.82 L356.11,66.81 L356.45,66.80 L356.78,66.78 L357.11,66.77 L357.44,66.76 L357.78,66.75 L358.11,66.74 L358.44,66.72 L358.77,66.71 L359.10,66.70 L359.44,66.69 L359.77,66.68 L360.10,66.67 L360.43,66.66 L360.77,66.65 L361.10,66.64 L361.43,66.63 L361.76,66.62 L362.09,66.61 L362.43,66.60 L362.76,66.59 L363.09,66.58 L363.42,66.57 L363.76,66.56 L364.09,66.55 L364.42,66.54 L364.75,66.53 L365.08,66.52 L365.42,66.51 L365.75,66.50 L366.08,66.50 L366.41,66.49 L366.75,66.48 L367.08,66.47 L367.41,66.46 L367.74,66.46 L368.07,66.45 L368.41,66.44 L368.74,66.43 L369.07,66.43 L369.40,66.42 L369.74,66.41 L370.07,66.41 L370.40,66.40" stroke="#0884ff" stroke-width="4.4" stroke-linecap="round"/>
<path d="M161.20,1342.89 L161.53,1340.97 L161.86,1339.02 L162.20,1337.06 L162.53,1335.07 L162.86,1333.07 L163.20,1331.05 L163.53,1329.01 L163.86,1326.95 L164.20,1324.87 L164.53,1322.78 L164.86,1320.67 L165.20,1318.54 L165.53,1316.40 L165.86,1314.24 L166.20,1312.06 L166.53,1309.86 L166.86,1307.66 L167.20,1305.43 L167.53,1303.19 L167.86,1300.94 L168.20,1298.67 L168.53,1296.38 L168.86,1294.08 L169.20,1291.77 L169.53,1289.44 L169.86,1287.10 L170.20,1284.75 L170.53,1282.38 L170.86,1279.99 L171.20,1277.58 L171.53,1275.15 L171.86,1272.70 L172.20,1270.23 L172.53,1267.75 L172.86,1265.24 L173.20,1262.71 L173.53,1260.17 L173.86,1257.60 L174.20,1255.01 L174.53,1252.40 L174.86,1249.77 L175.20,1247.11 L175.53,1244.44 L175.86,1241.74 L176.20,1239.02 L176.53,1236.28 L176.86,1233.51 L177.20,1230.72 L177.53,1227.91 L177.86,1225.07 L178.20,1222.20 L178.53,1219.31 L178.87,1216.38 L179.20,1213.42 L179.53,1210.43 L179.87,1207.42 L180.20,1204.37 L180.53,1201.30 L180.87,1198.20 L181.20,1195.08 L181.53,1191.93 L181.87,1188.75 L182.20,1185.56 L182.53,1182.33 L182.87,1179.09 L183.20,1175.82 L183.53,1172.53 L183.87,1169.22 L184.20,1165.89 L184.53,1162.54 L184.87,1159.17 L185.20,1155.79 L185.53,1152.38 L185.87,1148.96 L186.20,1145.50 L186.53,1142.02 L186.87,1138.50 L187.20,1134.96 L187.53,1131.39 L187.87,1127.79 L188.20,1124.17 L188.53,1120.52 L188.87,1116.84 L189.20,1113.14 L189.53,1109.42 L189.87,1105.67 L190.20,1101.90 L190.53,1098.11 L190.87,1094.29 L191.20,1090.46 L191.53,1086.61 L191.87,1082.73 L192.20,1078.84 L192.53,1074.93 L192.87,1071.01 L193.20,1067.07 L193.53,1063.11 L193.87,1059.13 L194.20,1055.12 L194.53,1051.08 L194.87,1047.02 L195.20,1042.93 L195.53,1038.81 L195.87,1034.68 L196.20,1030.51 L196.53,1026.33 L196.87,1022.12 L197.20,1017.89 L197.53,1013.64 L197.87,1009.36 L198.20,1005.07 L198.53,1000.76 L198.87,996.44 L199.20,992.09 L199.53,987.73 L199.87,983.35 L200.20,978.96 L200.53,974.55 L200.87,970.13 L201.20,965.69 L201.53,961.24 L201.87,956.77 L202.20,952.27 L202.53,947.75 L202.87,943.21 L203.20,938.64 L203.53,934.06 L203.87,929.45 L204.20,924.82 L204.53,920.18 L204.87,915.51 L205.20,910.83 L205.53,906.13 L205.87,901.42 L206.20,896.69 L206.53,891.95 L206.87,887.19 L207.20,882.42 L207.53,877.64 L207.87,872.84 L208.20,868.04 L208.53,863.22 L208.87,858.40 L209.20,853.57 L209.53,848.72 L209.87,843.86 L210.20,838.97 L210.53,834.07 L210.87,829.15 L211.20,824.21 L211.53,819.26 L211.87,814.29 L212.20,809.31 L212.53,804.31 L212.87,799.30 L213.20,794.28 L213.53,789.25 L213.87,784.20 L214.20,779.15 L214.53,774.09 L214.87,769.02 L215.20,763.95 L215.53,758.87 L215.87,753.78 L216.20,748.69 L216.53,743.60 L216.87,738.50 L217.20,733.40 L217.53,728.29 L217.87,723.16 L218.20,718.02 L218.53,712.87 L218.87,707.71 L219.20,702.54 L219.53,697.35 L219.87,692.16 L220.20,686.96 L220.53,681.75 L220.87,676.54 L221.20,671.33 L221.53,666.10 L221.87,660.88 L222.20,655.66 L222.53,650.43 L222.87,645.20 L223.20,639.97 L223.53,634.75 L223.87,629.53 L224.20,624.31 L224.53,619.10 L224.87,613.89 L225.20,608.68 L225.53,603.47 L225.87,598.25 L226.20,593.02 L226.53,587.78 L226.87,582.55 L227.20,577.30 L227.53,572.06 L227.87,566.82 L228.20,561.57 L228.53,556.33 L228.87,551.09 L229.20,545.86 L229.53,540.63 L229.87,535.40 L230.20,530.18 L230.53,524.97 L230.87,519.77 L231.20,514.58 L231.53,509.40 L231.87,504.23 L232.20,499.08 L232.53,493.94 L232.87,488.82 L233.20,483.70 L233.53,478.58 L233.87,473.46 L234.20,468.34 L234.53,463.22 L234.87,458.11 L235.20,453.00 L235.53,447.90 L235.87,442.81 L236.20,437.73 L236.53,432.65 L236.87,427.59 L237.20,422.55 L237.53,417.52 L237.87,412.50 L238.20,407.51 L238.53,402.53 L238.87,397.57 L239.20,392.64 L239.53,387.73 L239.87,382.84 L240.20,377.98 L240.53,373.15 L240.87,368.34 L241.20,363.51 L241.53,358.68 L241.87,353.84 L242.20,348.99 L242.53,344.16 L242.87,339.32 L243.20,334.50 L243.53,329.70 L243.87,324.92 L244.20,320.16 L244.53,315.43 L244.87,310.73 L245.20,306.07 L245.53,301.46 L245.87,296.89 L246.20,292.37 L246.53,287.91 L246.87,283.51 L247.20,279.17 L247.53,274.91 L247.87,270.71 L248.20,266.59 L248.53,262.56 L248.87,258.61 L249.20,254.76 L249.53,250.99 L249.87,247.30 L250.20,243.66 L250.53,240.08 L250.87,236.55 L251.20,233.05 L251.53,229.57 L251.87,226.11 L252.20,222.66 L252.53,219.20 L252.87,215.73 L253.20,212.24 L253.53,208.71 L253.87,205.16 L254.20,201.62 L254.53,198.08 L254.87,194.55 L255.20,191.03 L255.53,187.51 L255.87,183.99 L256.20,180.49 L256.53,176.99 L256.87,173.49 L257.20,170.00 L257.20,170.00 L257.53,169.53 L257.87,169.06 L258.20,168.59 L258.53,168.13 L258.86,167.67 L259.20,167.21 L259.53,166.76 L259.86,166.31 L260.20,165.86 L260.53,165.42 L260.86,164.97 L261.20,164.53 L261.53,164.10 L261.86,163.67 L262.19,163.23 L262.53,162.81 L262.86,162.38 L263.19,161.96 L263.53,161.54 L263.86,161.13 L264.19,160.71 L264.52,160.30 L264.86,159.90 L265.19,159.49 L265.52,159.09 L265.86,158.69 L266.19,158.29 L266.52,157.90 L266.86,157.51 L267.19,157.12 L267.52,156.74 L267.85,156.35 L268.19,155.97 L268.52,155.60 L268.85,155.22 L269.19,154.85 L269.52,154.48 L269.85,154.12 L270.18,153.75 L270.52,153.39 L270.85,153.03 L271.18,152.68 L271.52,152.32 L271.85,151.97 L272.18,151.62 L272.52,151.28 L272.85,150.94 L273.18,150.60 L273.51,150.26 L273.85,149.92 L274.18,149.59 L274.51,149.26 L274.85,148.93 L275.18,148.61 L275.51,148.28 L275.84,147.96 L276.18,147.65 L276.51,147.33 L276.84,147.02 L277.18,146.71 L277.51,146.40 L277.84,146.09 L278.18,145.79 L278.51,145.49 L278.84,145.19 L279.17,144.90 L279.51,144.60 L279.84,144.31 L280.17,144.02 L280.51,143.73 L280.84,143.45 L281.17,143.17 L281.50,142.89 L281.84,142.61 L282.17,142.34 L282.50,142.06 L282.84,141.79 L283.17,141.52 L283.50,141.26 L283.84,140.99 L284.17,140.73 L284.50,140.47 L284.83,140.21 L285.17,139.96 L285.50,139.71 L285.83,139.46 L286.17,139.21 L286.50,138.96 L286.83,138.72 L287.16,138.47 L287.50,138.23 L287.83,137.99 L288.16,137.76 L288.50,137.52 L288.83,137.29 L289.16,137.06 L289.50,136.84 L289.83,136.61 L290.16,136.39 L290.49,136.16 L290.83,135.94 L291.16,135.73 L291.49,135.51 L291.83,135.30 L292.16,135.09 L292.49,134.88 L292.82,134.67 L293.16,134.46 L293.49,134.26 L293.82,134.06 L294.16,133.86 L294.49,133.66 L294.82,133.46 L295.16,133.27 L295.49,133.07 L295.82,132.88 L296.15,132.69 L296.49,132.51 L296.82,132.32 L297.15,132.14 L297.49,131.96 L297.82,131.78 L298.15,131.60 L298.48,131.42 L298.82,131.25 L299.15,131.07 L299.48,130.90 L299.82,130.73 L300.15,130.56 L300.48,130.40 L300.82,130.23 L301.15,130.07 L301.48,129.91 L301.81,129.75 L302.15,129.59 L302.48,129.44 L302.81,129.28 L303.15,129.13 L303.48,128.98 L303.81,128.83 L304.14,128.68 L304.48,128.53 L304.81,128.39 L305.14,128.25 L305.48,128.10 L305.81,127.96 L306.14,127.82 L306.48,127.69 L306.81,127.55 L307.14,127.42 L307.47,127.28 L307.81,127.15 L308.14,127.02 L308.47,126.89 L308.81,126.77 L309.14,126.64 L309.47,126.52 L309.80,126.40 L310.14,126.27 L310.47,126.15 L310.80,126.04 L311.14,125.92 L311.47,125.80 L311.80,125.69 L312.14,125.58 L312.47,125.46 L312.80,125.35 L313.13,125.24 L313.47,125.14 L313.80,125.03 L314.13,124.92 L314.47,124.82 L314.80,124.72 L315.13,124.62 L315.46,124.52 L315.80,124.42 L316.13,124.32 L316.46,124.22 L316.80,124.13 L317.13,124.03 L317.46,123.94 L317.80,123.85 L318.13,123.76 L318.46,123.67 L318.79,123.58 L319.13,123.49 L319.46,123.40 L319.79,123.32 L320.13,123.23 L320.46,123.15 L320.79,123.07 L321.12,122.99 L321.46,122.91 L321.79,122.83 L322.12,122.75 L322.46,122.67 L322.79,122.60 L323.12,122.52 L323.46,122.45 L323.79,122.38 L324.12,122.30 L324.45,122.23 L324.79,122.16 L325.12,122.09 L325.45,122.03 L325.79,121.96 L326.12,121.89 L326.45,121.83 L326.78,121.76 L327.12,121.70 L327.45,121.64 L327.78,121.57 L328.12,121.51 L328.45,121.45 L328.78,121.39 L329.12,121.33 L329.45,121.28 L329.78,121.22 L330.11,121.16 L330.45,121.11 L330.78,121.05 L331.11,121.00 L331.45,120.94 L331.78,120.89 L332.11,120.84 L332.44,120.79 L332.78,120.74 L333.11,120.69 L333.44,120.64 L333.78,120.59 L334.11,120.54 L334.44,120.49 L334.78,120.45 L335.11,120.40 L335.44,120.35 L335.77,120.31 L336.11,120.27 L336.44,120.22 L336.77,120.18 L337.11,120.14 L337.44,120.09 L337.77,120.05 L338.10,120.01 L338.44,119.97 L338.77,119.93 L339.10,119.89 L339.44,119.85 L339.77,119.81 L340.10,119.78 L340.44,119.74 L340.77,119.70 L341.10,119.66 L341.43,119.63 L341.77,119.59 L342.10,119.56 L342.43,119.52 L342.77,119.49 L343.10,119.45 L343.43,119.42 L343.76,119.38 L344.10,119.35 L344.43,119.32 L344.76,119.28 L345.10,119.25 L345.43,119.22 L345.76,119.19 L346.10,119.16 L346.43,119.12 L346.76,119.09 L347.09,119.06 L347.43,119.03 L347.76,119.00 L348.09,118.97 L348.43,118.94 L348.76,118.91 L349.09,118.88 L349.42,118.85 L349.76,118.82 L350.09,118.79 L350.42,118.76 L350.76,118.73 L351.09,118.71 L351.42,118.68 L351.76,118.65 L352.09,118.62 L352.42,118.59 L352.75,118.56 L353.09,118.53 L353.42,118.51 L353.75,118.48 L354.09,118.45 L354.42,118.42 L354.75,118.39 L355.08,118.36 L355.42,118.34 L355.75,118.31 L356.08,118.28 L356.42,118.25 L356.75,118.22 L357.08,118.19 L357.42,118.17 L357.75,118.14 L358.08,118.11 L358.41,118.08 L358.75,118.05 L359.08,118.02 L359.41,117.99 L359.75,117.96 L360.08,117.93 L360.41,117.90 L360.74,117.87 L361.08,117.84 L361.41,117.81 L361.74,117.78 L362.08,117.75 L362.41,117.72 L362.74,117.69 L363.08,117.66 L363.41,117.62 L363.74,117.59 L364.07,117.56 L364.41,117.53 L364.74,117.49 L365.07,117.46 L365.41,117.43 L365.74,117.39 L366.07,117.36 L366.40,117.32 L366.74,117.29 L367.07,117.25 L367.40,117.22 L367.74,117.18 L368.07,117.14 L368.40,117.10 L368.74,117.07 L369.07,117.03 L369.40,116.99 L369.73,116.95 L370.07,116.91 L370.40,116.87" stroke="#ff6010" stroke-width="4.2" stroke-linecap="round"/>
<path d="M162.10,339.00 L162.43,339.00 L162.77,338.98 L163.10,338.95 L163.43,338.92 L163.77,338.87 L164.10,338.82 L164.43,338.75 L164.77,338.68 L165.10,338.60 L165.43,338.52 L165.77,338.42 L166.10,338.33 L166.43,338.22 L166.77,338.12 L167.10,338.00 L167.43,337.89 L167.77,337.77 L168.10,337.65 L168.43,337.53 L168.77,337.39 L169.10,337.23 L169.43,337.04 L169.77,336.83 L170.10,336.59 L170.43,336.34 L170.77,336.06 L171.10,335.77 L171.43,335.47 L171.77,335.15 L172.10,334.82 L172.43,334.48 L172.77,334.13 L173.10,333.77 L173.43,333.41 L173.77,333.05 L174.10,332.68 L174.43,332.31 L174.77,331.95 L175.10,331.58 L175.43,331.19 L175.77,330.79 L176.10,330.37 L176.43,329.94 L176.77,329.50 L177.10,329.04 L177.43,328.57 L177.77,328.10 L178.10,327.61 L178.43,327.11 L178.77,326.61 L179.10,326.10 L179.43,325.58 L179.77,325.06 L180.10,324.53 L180.43,324.00 L180.77,323.46 L181.10,322.92 L181.43,322.38 L181.77,321.82 L182.10,321.26 L182.43,320.68 L182.77,320.09 L183.10,319.50 L183.43,318.89 L183.77,318.28 L184.10,317.66 L184.43,317.03 L184.77,316.39 L185.10,315.75 L185.43,315.10 L185.77,314.45 L186.10,313.79 L186.43,313.13 L186.77,312.46 L187.10,311.80 L187.43,311.12 L187.77,310.45 L188.10,309.76 L188.43,309.07 L188.77,308.37 L189.10,307.66 L189.43,306.95 L189.77,306.23 L190.10,305.50 L190.43,304.77 L190.77,304.03 L191.10,303.29 L191.43,302.54 L191.77,301.79 L192.10,301.03 L192.43,300.27 L192.77,299.51 L193.10,298.75 L193.43,297.98 L193.77,297.22 L194.10,296.44 L194.43,295.67 L194.77,294.88 L195.10,294.10 L195.43,293.30 L195.77,292.51 L196.10,291.70 L196.43,290.90 L196.77,290.09 L197.10,289.28 L197.43,288.46 L197.77,287.64 L198.10,286.82 L198.43,286.00 L198.77,285.17 L199.10,284.35 L199.43,283.52 L199.77,282.69 L200.10,281.86 L200.43,281.03 L200.77,280.20 L201.10,279.36 L201.43,278.52 L201.77,277.68 L202.10,276.83 L202.43,275.99 L202.77,275.14 L203.10,274.28 L203.43,273.43 L203.77,272.58 L204.10,271.72 L204.43,270.86 L204.77,270.01 L205.10,269.15 L205.43,268.30 L205.77,267.44 L206.10,266.59 L206.43,265.74 L206.77,264.88 L207.10,264.03 L207.43,263.17 L207.77,262.31 L208.10,261.46 L208.43,260.60 L208.77,259.74 L209.10,258.88 L209.43,258.02 L209.77,257.16 L210.10,256.30 L210.43,255.44 L210.77,254.59 L211.10,253.73 L211.43,252.88 L211.77,252.03 L212.10,251.18 L212.43,250.34 L212.77,249.50 L213.10,248.66 L213.43,247.82 L213.77,246.97 L214.10,246.13 L214.43,245.29 L214.77,244.45 L215.10,243.61 L215.43,242.77 L215.77,241.93 L216.10,241.10 L216.43,240.27 L216.77,239.44 L217.10,238.62 L217.43,237.81 L217.77,236.99 L218.10,236.19 L218.43,235.39 L218.77,234.60 L219.10,233.81 L219.43,233.04 L219.77,232.27 L220.10,231.52 L220.43,230.78 L220.77,230.04 L221.10,229.32 L221.43,228.60 L221.77,227.89 L222.10,227.18 L222.43,226.48 L222.77,225.78 L223.10,225.09 L223.43,224.41 L223.77,223.72 L224.10,223.04 L224.43,222.35 L224.77,221.67 L225.10,220.99 L225.43,220.30 L225.77,219.62 L226.10,218.93 L226.43,218.23 L226.77,217.54 L227.10,216.84 L227.43,216.13 L227.77,215.41 L228.10,214.69 L228.43,213.97 L228.77,213.23 L229.10,212.48 L229.43,211.73 L229.77,210.96 L230.10,210.18 L230.43,209.39 L230.77,208.58 L231.10,207.77 L231.43,206.93 L231.77,206.09 L232.10,205.22 L232.43,204.33 L232.77,203.42 L233.10,202.49 L233.43,201.54 L233.77,200.58 L234.10,199.60 L234.43,198.60 L234.77,197.59 L235.10,196.57 L235.43,195.54 L235.77,194.50 L236.10,193.46 L236.43,192.40 L236.77,191.34 L237.10,190.28 L237.43,189.17 L237.77,188.03 L238.10,186.87 L238.43,185.70 L238.77,184.54 L239.10,183.41 L239.43,182.31 L239.77,181.25 L240.10,180.19 L240.43,179.13 L240.77,178.09 L241.10,177.08 L241.43,176.12 L241.77,175.23 L242.10,174.40 L242.43,173.65 L242.77,172.96 L243.10,172.32 L243.43,171.71 L243.77,171.12 L244.10,170.53 L244.43,169.92 L244.77,169.29 L245.10,168.61 L245.43,167.89 L245.77,167.14 L246.10,166.36 L246.43,165.57 L246.77,164.76 L247.10,163.92 L247.43,163.08 L247.77,162.21 L248.10,161.34 L248.43,160.45 L248.77,159.54 L249.10,158.58 L249.43,157.57 L249.77,156.53 L250.10,155.47 L250.43,154.40 L250.77,153.35 L251.10,152.31 L251.43,151.31 L251.77,150.37 L252.10,149.49 L252.43,148.69 L252.77,147.95 L253.10,147.25 L253.43,146.59 L253.77,145.96 L254.10,145.36 L254.43,144.77 L254.77,144.19 L255.10,143.61 L255.43,143.02 L255.77,142.42 L256.10,141.80 L256.43,141.15 L256.77,140.46 L257.10,139.73 L257.43,138.94 L257.77,138.07 L258.10,137.14 L258.43,136.17 L258.77,135.17 L259.10,134.17 L259.43,133.18 L259.77,132.22 L260.10,131.30 L260.43,130.46 L260.77,129.68 L261.10,128.95 L261.43,128.25 L261.77,127.57 L262.10,126.92 L262.43,126.28 L262.77,125.65 L263.10,125.02 L263.43,124.39 L263.77,123.75 L264.10,123.10 L264.43,122.42 L264.77,121.71 L265.10,120.97 L265.43,120.21 L265.77,119.41 L266.10,118.60 L266.43,117.77 L266.77,116.93 L267.10,116.08 L267.43,115.22 L267.77,114.37 L268.10,113.52 L268.43,112.67 L268.77,111.83 L269.10,111.01 L269.43,110.18 L269.77,109.35 L270.10,108.53 L270.43,107.70 L270.77,106.88 L271.10,106.04 L271.43,105.21 L271.77,104.36 L272.10,103.51 L272.43,102.66 L272.77,101.82 L273.10,100.99 L273.43,100.18 L273.77,99.35 L274.10,98.52 L274.43,97.66 L274.77,96.78 L275.10,95.85 L275.43,94.87 L275.77,93.83 L276.10,92.74 L276.43,91.60 L276.77,90.40 L277.10,89.14 L277.43,87.80 L277.77,86.37 L278.10,84.83 L278.43,83.18 L278.77,81.39 L279.10,79.32 L279.43,76.88 L279.77,74.16 L280.10,71.30 L280.10,71.30 L280.43,71.27 L280.77,71.23 L281.10,71.20 L281.43,71.17 L281.77,71.13 L282.10,71.10 L282.43,71.07 L282.77,71.04 L283.10,71.00 L283.43,70.97 L283.77,70.94 L284.10,70.91 L284.43,70.87 L284.76,70.84 L285.10,70.81 L285.43,70.78 L285.76,70.75 L286.10,70.71 L286.43,70.68 L286.76,70.65 L287.10,70.62 L287.43,70.59 L287.76,70.56 L288.10,70.52 L288.43,70.49 L288.76,70.46 L289.10,70.43 L289.43,70.40 L289.76,70.37 L290.10,70.34 L290.43,70.31 L290.76,70.28 L291.10,70.25 L291.43,70.22 L291.76,70.19 L292.10,70.16 L292.43,70.13 L292.76,70.10 L293.10,70.07 L293.43,70.04 L293.76,70.01 L294.09,69.98 L294.43,69.96 L294.76,69.93 L295.09,69.90 L295.43,69.87 L295.76,69.84 L296.09,69.81 L296.43,69.79 L296.76,69.76 L297.09,69.73 L297.43,69.70 L297.76,69.68 L298.09,69.65 L298.43,69.62 L298.76,69.60 L299.09,69.57 L299.43,69.54 L299.76,69.52 L300.09,69.49 L300.43,69.47 L300.76,69.44 L301.09,69.42 L301.43,69.39 L301.76,69.36 L302.09,69.34 L302.43,69.31 L302.76,69.29 L303.09,69.26 L303.42,69.23 L303.76,69.21 L304.09,69.18 L304.42,69.16 L304.76,69.13 L305.09,69.10 L305.42,69.08 L305.76,69.05 L306.09,69.03 L306.42,69.00 L306.76,68.98 L307.09,68.95 L307.42,68.93 L307.76,68.90 L308.09,68.87 L308.42,68.85 L308.76,68.82 L309.09,68.80 L309.42,68.77 L309.76,68.75 L310.09,68.72 L310.42,68.70 L310.76,68.67 L311.09,68.65 L311.42,68.62 L311.75,68.60 L312.09,68.58 L312.42,68.55 L312.75,68.53 L313.09,68.50 L313.42,68.48 L313.75,68.45 L314.09,68.43 L314.42,68.41 L314.75,68.38 L315.09,68.36 L315.42,68.34 L315.75,68.31 L316.09,68.29 L316.42,68.27 L316.75,68.25 L317.09,68.22 L317.42,68.20 L317.75,68.18 L318.09,68.16 L318.42,68.13 L318.75,68.11 L319.09,68.09 L319.42,68.07 L319.75,68.05 L320.09,68.03 L320.42,68.01 L320.75,67.99 L321.08,67.96 L321.42,67.94 L321.75,67.92 L322.08,67.90 L322.42,67.88 L322.75,67.87 L323.08,67.85 L323.42,67.83 L323.75,67.81 L324.08,67.79 L324.42,67.77 L324.75,67.75 L325.08,67.74 L325.42,67.72 L325.75,67.70 L326.08,67.68 L326.42,67.67 L326.75,67.65 L327.08,67.63 L327.42,67.62 L327.75,67.60 L328.08,67.58 L328.42,67.57 L328.75,67.55 L329.08,67.54 L329.42,67.52 L329.75,67.51 L330.08,67.50 L330.41,67.48 L330.75,67.47 L331.08,67.45 L331.41,67.44 L331.75,67.43 L332.08,67.41 L332.41,67.40 L332.75,67.39 L333.08,67.37 L333.41,67.36 L333.75,67.34 L334.08,67.33 L334.41,67.32 L334.75,67.30 L335.08,67.29 L335.41,67.28 L335.75,67.26 L336.08,67.25 L336.41,67.24 L336.75,67.22 L337.08,67.21 L337.41,67.20 L337.75,67.18 L338.08,67.17 L338.41,67.16 L338.75,67.14 L339.08,67.13 L339.41,67.12 L339.74,67.10 L340.08,67.09 L340.41,67.08 L340.74,67.07 L341.08,67.05 L341.41,67.04 L341.74,67.03 L342.08,67.02 L342.41,67.00 L342.74,66.99 L343.08,66.98 L343.41,66.97 L343.74,66.95 L344.08,66.94 L344.41,66.93 L344.74,66.92 L345.08,66.91 L345.41,66.89 L345.74,66.88 L346.08,66.87 L346.41,66.86 L346.74,66.85 L347.08,66.84 L347.41,66.82 L347.74,66.81 L348.07,66.80 L348.41,66.79 L348.74,66.78 L349.07,66.77 L349.41,66.76 L349.74,66.75 L350.07,66.74 L350.41,66.72 L350.74,66.71 L351.07,66.70 L351.41,66.69 L351.74,66.68 L352.07,66.67 L352.41,66.66 L352.74,66.65 L353.07,66.64 L353.41,66.63 L353.74,66.62 L354.07,66.61 L354.41,66.60 L354.74,66.60 L355.07,66.59 L355.41,66.58 L355.74,66.57 L356.07,66.56 L356.41,66.55 L356.74,66.54 L357.07,66.53 L357.40,66.52 L357.74,66.52 L358.07,66.51 L358.40,66.50 L358.74,66.49 L359.07,66.48 L359.40,66.48 L359.74,66.47 L360.07,66.46 L360.40,66.45 L360.74,66.45 L361.07,66.44 L361.40,66.43 L361.74,66.43 L362.07,66.42 L362.40,66.41 L362.74,66.41 L363.07,66.40 L363.40,66.39 L363.74,66.39 L364.07,66.38 L364.40,66.38 L364.74,66.37 L365.07,66.37 L365.40,66.36 L365.74,66.36 L366.07,66.35 L366.40,66.35 L366.73,66.34 L367.07,66.34 L367.40,66.33 L367.73,66.33 L368.07,66.32 L368.40,66.32 L368.73,66.32 L369.07,66.31 L369.40,66.31 L369.73,66.31 L370.07,66.30 L370.40,66.30" stroke="#c800e0" stroke-width="1.5" stroke-dasharray="1.6 1"/>
<path d="M162.10,445.61 L162.43,445.61 L162.77,445.60 L163.10,445.58 L163.44,445.56 L163.77,445.53 L164.11,445.49 L164.44,445.45 L164.78,445.40 L165.11,445.35 L165.45,445.30 L165.78,445.24 L166.11,445.17 L166.45,445.10 L166.78,445.03 L167.12,444.95 L167.45,444.87 L167.79,444.78 L168.12,444.69 L168.46,444.60 L168.79,444.51 L169.12,444.40 L169.46,444.24 L169.79,444.06 L170.13,443.85 L170.46,443.60 L170.80,443.33 L171.13,443.04 L171.47,442.72 L171.80,442.39 L172.14,442.03 L172.47,441.66 L172.80,441.28 L173.14,440.89 L173.47,440.48 L173.81,440.07 L174.14,439.66 L174.48,439.24 L174.81,438.83 L175.15,438.41 L175.48,438.00 L175.82,437.58 L176.15,437.14 L176.48,436.68 L176.82,436.20 L177.15,435.71 L177.49,435.20 L177.82,434.67 L178.16,434.13 L178.49,433.58 L178.83,433.01 L179.16,432.44 L179.49,431.85 L179.83,431.26 L180.16,430.65 L180.50,430.04 L180.83,429.43 L181.17,428.81 L181.50,428.18 L181.84,427.55 L182.17,426.92 L182.51,426.27 L182.84,425.62 L183.17,424.94 L183.51,424.26 L183.84,423.56 L184.18,422.86 L184.51,422.14 L184.85,421.41 L185.18,420.67 L185.52,419.92 L185.85,419.16 L186.19,418.40 L186.52,417.62 L186.85,416.84 L187.19,416.06 L187.52,415.27 L187.86,414.47 L188.19,413.67 L188.53,412.87 L188.86,412.06 L189.20,411.24 L189.53,410.42 L189.86,409.58 L190.20,408.73 L190.53,407.87 L190.87,407.01 L191.20,406.14 L191.54,405.26 L191.87,404.37 L192.21,403.47 L192.54,402.57 L192.88,401.66 L193.21,400.75 L193.54,399.83 L193.88,398.91 L194.21,397.98 L194.55,397.05 L194.88,396.12 L195.22,395.18 L195.55,394.24 L195.89,393.30 L196.22,392.34 L196.55,391.38 L196.89,390.41 L197.22,389.44 L197.56,388.46 L197.89,387.47 L198.23,386.48 L198.56,385.48 L198.90,384.48 L199.23,383.47 L199.57,382.46 L199.90,381.45 L200.23,380.43 L200.57,379.41 L200.90,378.39 L201.24,377.36 L201.57,376.34 L201.91,375.31 L202.24,374.28 L202.58,373.24 L202.91,372.20 L203.25,371.16 L203.58,370.11 L203.91,369.06 L204.25,368.00 L204.58,366.94 L204.92,365.88 L205.25,364.81 L205.59,363.74 L205.92,362.67 L206.26,361.60 L206.59,360.52 L206.92,359.44 L207.26,358.37 L207.59,357.29 L207.93,356.21 L208.26,355.13 L208.60,354.06 L208.93,352.98 L209.27,351.90 L209.60,350.81 L209.94,349.73 L210.27,348.64 L210.60,347.55 L210.94,346.45 L211.27,345.36 L211.61,344.27 L211.94,343.17 L212.28,342.07 L212.61,340.98 L212.95,339.88 L213.28,338.79 L213.62,337.69 L213.95,336.60 L214.28,335.50 L214.62,334.41 L214.95,333.32 L215.29,332.24 L215.62,331.15 L215.96,330.07 L216.29,328.98 L216.63,327.89 L216.96,326.80 L217.29,325.72 L217.63,324.63 L217.96,323.54 L218.30,322.45 L218.63,321.37 L218.97,320.29 L219.30,319.21 L219.64,318.13 L219.97,317.05 L220.31,315.98 L220.64,314.91 L220.97,313.84 L221.31,312.78 L221.64,311.72 L221.98,310.66 L222.31,309.61 L222.65,308.56 L222.98,307.51 L223.32,306.47 L223.65,305.42 L223.99,304.37 L224.32,303.33 L224.65,302.29 L224.99,301.26 L225.32,300.22 L225.66,299.19 L225.99,298.17 L226.33,297.15 L226.66,296.13 L227.00,295.12 L227.33,294.11 L227.66,293.11 L228.00,292.12 L228.33,291.13 L228.67,290.15 L229.00,289.17 L229.34,288.20 L229.67,287.24 L230.01,286.28 L230.34,285.32 L230.68,284.37 L231.01,283.42 L231.34,282.47 L231.68,281.53 L232.01,280.60 L232.35,279.67 L232.68,278.74 L233.02,277.82 L233.35,276.90 L233.69,275.99 L234.02,275.08 L234.36,274.18 L234.69,273.28 L235.02,272.39 L235.36,271.50 L235.36,271.43 L235.69,270.75 L236.03,270.05 L236.37,269.34 L236.70,268.61 L237.04,267.86 L237.37,267.10 L237.71,266.32 L238.04,265.53 L238.38,264.73 L238.72,263.91 L239.05,263.08 L239.39,262.23 L239.72,261.37 L240.06,260.50 L240.39,259.62 L240.73,258.73 L241.06,257.82 L241.40,256.91 L241.74,255.98 L242.07,255.04 L242.41,254.09 L242.74,253.14 L243.08,252.17 L243.41,251.19 L243.75,250.21 L244.09,249.22 L244.42,248.22 L244.76,247.21 L245.09,246.18 L245.43,245.09 L245.76,243.96 L246.10,242.78 L246.44,241.57 L246.77,240.33 L247.11,239.06 L247.44,237.78 L247.78,236.49 L248.11,235.19 L248.45,233.89 L248.78,232.61 L249.12,231.33 L249.46,230.08 L249.79,228.86 L250.13,227.67 L250.46,226.52 L250.80,225.42 L251.13,224.36 L251.47,223.37 L251.81,222.43 L252.14,221.53 L252.48,220.65 L252.81,219.81 L253.15,218.99 L253.48,218.19 L253.82,217.42 L254.15,216.65 L254.49,215.91 L254.83,215.17 L255.16,214.43 L255.50,213.70 L255.83,212.97 L256.17,212.24 L256.50,211.49 L256.84,210.74 L257.18,209.98 L257.51,209.19 L257.85,208.39 L258.18,207.56 L258.52,206.71 L258.85,205.82 L259.19,204.92 L259.53,204.00 L259.86,203.09 L260.20,202.16 L260.53,201.23 L260.87,200.30 L261.20,199.35 L261.54,198.41 L261.87,197.45 L262.21,196.49 L262.55,195.53 L262.88,194.56 L263.22,193.58 L263.55,192.59 L263.89,191.60 L264.22,190.61 L264.56,189.60 L264.90,188.59 L265.23,187.58 L265.57,186.56 L265.90,185.53 L266.24,184.49 L266.57,183.45 L266.91,182.40 L267.25,181.35 L267.58,180.29 L267.92,179.22 L268.25,178.15 L268.59,177.06 L268.92,175.98 L269.26,174.88 L269.59,173.78 L269.93,172.67 L270.27,171.55 L270.60,170.43 L270.94,169.30 L271.27,168.17 L271.61,167.02 L271.94,165.87 L272.28,164.71 L272.62,163.55 L272.95,162.37 L273.29,161.19 L273.62,160.01 L273.96,158.81 L274.29,157.61 L274.63,156.40 L274.97,155.18 L275.30,153.96 L275.64,152.73 L275.97,151.49 L276.31,150.24 L276.64,148.98 L276.98,147.72 L277.31,146.45 L277.65,145.17 L277.99,143.88 L278.32,142.59 L278.66,141.29 L278.99,139.98 L279.33,138.66 L279.66,137.33 L280.00,136.00 L280.00,136.00 L280.33,135.83 L280.67,135.66 L281.00,135.49 L281.33,135.33 L281.67,135.16 L282.00,135.00 L282.34,134.83 L282.67,134.67 L283.00,134.51 L283.34,134.35 L283.67,134.19 L284.00,134.03 L284.34,133.88 L284.67,133.72 L285.00,133.57 L285.34,133.42 L285.67,133.27 L286.00,133.12 L286.34,132.98 L286.67,132.83 L287.01,132.69 L287.34,132.55 L287.67,132.41 L288.01,132.27 L288.34,132.14 L288.67,132.01 L289.01,131.88 L289.34,131.75 L289.67,131.62 L290.01,131.50 L290.34,131.38 L290.67,131.26 L291.01,131.14 L291.34,131.02 L291.68,130.90 L292.01,130.79 L292.34,130.67 L292.68,130.56 L293.01,130.45 L293.34,130.34 L293.68,130.23 L294.01,130.13 L294.34,130.02 L294.68,129.91 L295.01,129.81 L295.34,129.71 L295.68,129.60 L296.01,129.50 L296.35,129.40 L296.68,129.30 L297.01,129.20 L297.35,129.10 L297.68,129.00 L298.01,128.91 L298.35,128.81 L298.68,128.71 L299.01,128.62 L299.35,128.52 L299.68,128.43 L300.01,128.33 L300.35,128.24 L300.68,128.15 L301.02,128.05 L301.35,127.96 L301.68,127.87 L302.02,127.77 L302.35,127.68 L302.68,127.59 L303.02,127.50 L303.35,127.40 L303.68,127.31 L304.02,127.22 L304.35,127.12 L304.68,127.03 L305.02,126.94 L305.35,126.85 L305.69,126.75 L306.02,126.66 L306.35,126.56 L306.69,126.47 L307.02,126.38 L307.35,126.28 L307.69,126.19 L308.02,126.09 L308.35,126.00 L308.69,125.90 L309.02,125.81 L309.35,125.71 L309.69,125.61 L310.02,125.52 L310.36,125.42 L310.69,125.33 L311.02,125.23 L311.36,125.14 L311.69,125.04 L312.02,124.95 L312.36,124.85 L312.69,124.76 L313.02,124.66 L313.36,124.56 L313.69,124.47 L314.03,124.37 L314.36,124.28 L314.69,124.19 L315.03,124.09 L315.36,124.00 L315.69,123.90 L316.03,123.81 L316.36,123.72 L316.69,123.62 L317.03,123.53 L317.36,123.44 L317.69,123.34 L318.03,123.25 L318.36,123.16 L318.70,123.07 L319.03,122.98 L319.36,122.89 L319.70,122.80 L320.03,122.71 L320.36,122.62 L320.70,122.53 L321.03,122.44 L321.36,122.35 L321.70,122.26 L322.03,122.18 L322.36,122.09 L322.70,122.00 L323.03,121.92 L323.37,121.83 L323.70,121.75 L324.03,121.67 L324.37,121.58 L324.70,121.50 L325.03,121.42 L325.37,121.34 L325.70,121.26 L326.03,121.18 L326.37,121.10 L326.70,121.02 L327.03,120.94 L327.37,120.87 L327.70,120.79 L328.04,120.71 L328.37,120.64 L328.70,120.57 L329.04,120.49 L329.37,120.42 L329.70,120.35 L330.04,120.28 L330.37,120.21 L330.70,120.14 L331.04,120.07 L331.37,120.01 L331.70,119.94 L332.04,119.88 L332.37,119.81 L332.71,119.75 L333.04,119.69 L333.37,119.63 L333.71,119.57 L334.04,119.51 L334.37,119.45 L334.71,119.40 L335.04,119.34 L335.37,119.29 L335.71,119.23 L336.04,119.18 L336.37,119.13 L336.71,119.07 L337.04,119.02 L337.38,118.97 L337.71,118.91 L338.04,118.86 L338.38,118.81 L338.71,118.76 L339.04,118.70 L339.38,118.65 L339.71,118.60 L340.04,118.55 L340.38,118.50 L340.71,118.45 L341.05,118.39 L341.38,118.34 L341.71,118.29 L342.05,118.24 L342.38,118.19 L342.71,118.14 L343.05,118.09 L343.38,118.04 L343.71,117.99 L344.05,117.94 L344.38,117.89 L344.71,117.84 L345.05,117.79 L345.38,117.75 L345.72,117.70 L346.05,117.65 L346.38,117.60 L346.72,117.55 L347.05,117.51 L347.38,117.46 L347.72,117.41 L348.05,117.37 L348.38,117.32 L348.72,117.28 L349.05,117.23 L349.38,117.19 L349.72,117.14 L350.05,117.10 L350.39,117.05 L350.72,117.01 L351.05,116.97 L351.39,116.92 L351.72,116.88 L352.05,116.84 L352.39,116.79 L352.72,116.75 L353.05,116.71 L353.39,116.67 L353.72,116.63 L354.05,116.59 L354.39,116.55 L354.72,116.51 L355.06,116.47 L355.39,116.43 L355.72,116.40 L356.06,116.36 L356.39,116.32 L356.72,116.28 L357.06,116.25 L357.39,116.21 L357.72,116.18 L358.06,116.14 L358.39,116.11 L358.72,116.07 L359.06,116.04 L359.39,116.00 L359.73,115.97 L360.06,115.94 L360.39,115.91 L360.73,115.88 L361.06,115.85 L361.39,115.81 L361.73,115.78 L362.06,115.76 L362.39,115.73 L362.73,115.70 L363.06,115.67 L363.39,115.64 L363.73,115.62 L364.06,115.59 L364.40,115.56 L364.73,115.54 L365.06,115.51 L365.40,115.49 L365.73,115.47 L366.06,115.44 L366.40,115.42 L366.73,115.40 L367.06,115.38 L367.40,115.36 L367.73,115.34 L368.06,115.32 L368.40,115.30 L368.73,115.28 L369.07,115.26 L369.40,115.25 L369.73,115.23 L370.07,115.22 L370.40,115.20" stroke="#c800e0" stroke-width="1.5" stroke-dasharray="1.6 1"/>
</g>
<path d="M225.0,59.5H373.7" stroke="#8c8c8c" stroke-width="1" fill="none"/>
<path d="M225.0,206.8H373.7" stroke="#8c8c8c" stroke-width="1.3" fill="none"/>
<path d="M225.5,59.5V206.8M373.2,59.5V206.8" stroke="#8c8c8c" stroke-width="1" fill="none"/>
<path d="M228.40,206.8v-3.0M299.50,206.8v-2.5M370.39,206.8v-3.0M228.40,59.5v1.6M235.03,59.5v1.6M241.66,59.5v1.6M248.29,59.5v1.6M254.92,59.5v1.6M261.55,59.5v1.6M268.18,59.5v1.6M274.81,59.5v1.6M281.44,59.5v1.6M288.07,59.5v1.6M294.70,59.5v1.6M301.33,59.5v1.6M307.96,59.5v1.6M314.59,59.5v1.6M321.22,59.5v1.6M327.85,59.5v1.6M334.48,59.5v1.6M341.11,59.5v1.6M347.74,59.5v1.6M354.37,59.5v1.6M361.00,59.5v1.6M367.63,59.5v1.6M225.5,69.50h2.3M225.5,127.60h2.3M225.5,185.70h2.3M373.2,62.24h-1.6M373.2,69.50h-3.0M373.2,76.76h-1.6M373.2,84.03h-1.6M373.2,91.29h-1.6M373.2,98.55h-1.6M373.2,105.81h-1.6M373.2,113.08h-1.6M373.2,120.34h-1.6M373.2,127.60h-3.0M373.2,134.86h-1.6M373.2,142.12h-1.6M373.2,149.39h-1.6M373.2,156.65h-1.6M373.2,163.91h-1.6M373.2,171.18h-1.6M373.2,178.44h-1.6M373.2,185.70h-3.0M373.2,192.96h-1.6M373.2,200.22h-1.6" stroke="#8c8c8c" stroke-width="1" fill="none"/>
</svg>
<div id="lb"><div class="l r" style="right:360.7px;top:19.1px">0<span class="p">.</span>00</div><div class="l r" style="right:360.7px;top:53.6px"><span class="mi">&#8722;</span>0<span class="p">.</span>02</div><div class="l r" style="right:360.7px;top:88.0px"><span class="mi">&#8722;</span>0<span class="p">.</span>04</div><div class="l r" style="right:360.7px;top:122.5px"><span class="mi">&#8722;</span>0<span class="p">.</span>06</div><div class="l r" style="right:360.7px;top:156.9px"><span class="mi">&#8722;</span>0<span class="p">.</span>08</div><div class="l r" style="right:360.7px;top:191.4px"><span class="mi">&#8722;</span>0<span class="p">.</span>10</div><div class="l c" style="left:35.1px;top:230.2px">0<span class="p">.</span>0</div><div class="l c" style="left:138.0px;top:230.2px">0<span class="p">.</span>5</div><div class="l c" style="left:240.9px;top:230.2px">1<span class="p">.</span>0</div><div class="l c" style="left:343.8px;top:230.2px">1<span class="p">.</span>5</div><div class="l r" style="right:184.7px;top:62.7px"><span class="mi">&#8722;</span>0<span class="p">.</span>002</div><div class="l r" style="right:184.7px;top:178.9px"><span class="mi">&#8722;</span>0<span class="p">.</span>010</div><div class="l c" style="left:208.4px;top:208.3px">0<span class="p">.</span>5</div><div class="l c" style="left:351.1px;top:208.2px">&#960;/2</div></div>
</div></body></html>
